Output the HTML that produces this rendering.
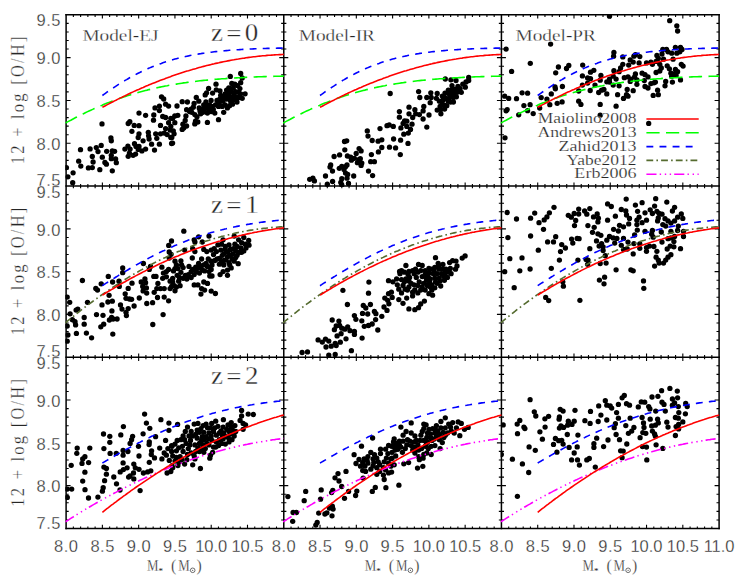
<!DOCTYPE html>
<html><head><meta charset="utf-8"><title>Mass-metallicity relation</title>
<style>html,body{margin:0;padding:0;background:#fff}svg{display:block}text{font-family:"Liberation Serif",serif;fill:#262626;stroke:#fff;stroke-width:0.3px}.n{font-family:"Liberation Sans",sans-serif;font-size:16.5px}</style></head><body>
<svg width="747" height="581" viewBox="0 0 747 581">
<rect width="747" height="581" fill="#fff"/>
<clipPath id="cp00"><rect x="65.30" y="14.00" width="219.27" height="172.90"/></clipPath>
<clipPath id="cp01"><rect x="282.97" y="14.00" width="219.26" height="172.90"/></clipPath>
<clipPath id="cp02"><rect x="500.63" y="14.00" width="219.27" height="172.90"/></clipPath>
<clipPath id="cp10"><rect x="65.30" y="185.30" width="219.27" height="172.70"/></clipPath>
<clipPath id="cp11"><rect x="282.97" y="185.30" width="219.26" height="172.70"/></clipPath>
<clipPath id="cp12"><rect x="500.63" y="185.30" width="219.27" height="172.70"/></clipPath>
<clipPath id="cp20"><rect x="65.30" y="356.40" width="219.27" height="172.90"/></clipPath>
<clipPath id="cp21"><rect x="282.97" y="356.40" width="219.26" height="172.90"/></clipPath>
<clipPath id="cp22"><rect x="500.63" y="356.40" width="219.27" height="172.90"/></clipPath>
<g clip-path="url(#cp00)" fill="#000">
<circle cx="66.4" cy="167.6" r="2.65"/>
<circle cx="67.9" cy="176.8" r="2.65"/>
<circle cx="73.1" cy="172.8" r="2.65"/>
<circle cx="72.7" cy="182.7" r="2.65"/>
<circle cx="78.7" cy="161.2" r="2.65"/>
<circle cx="80.8" cy="166.1" r="2.65"/>
<circle cx="80.5" cy="149.7" r="2.65"/>
<circle cx="88.4" cy="167.9" r="2.65"/>
<circle cx="92.3" cy="167.6" r="2.65"/>
<circle cx="90.1" cy="148.9" r="2.65"/>
<circle cx="92.3" cy="156.5" r="2.65"/>
<circle cx="93.1" cy="162.0" r="2.65"/>
<circle cx="96.3" cy="147.6" r="2.65"/>
<circle cx="98.0" cy="151.6" r="2.65"/>
<circle cx="99.8" cy="169.7" r="2.65"/>
<circle cx="101.2" cy="145.4" r="2.65"/>
<circle cx="102.3" cy="157.2" r="2.65"/>
<circle cx="104.9" cy="162.4" r="2.65"/>
<circle cx="106.4" cy="164.2" r="2.65"/>
<circle cx="106.7" cy="151.3" r="2.65"/>
<circle cx="110.9" cy="138.0" r="2.65"/>
<circle cx="111.3" cy="140.8" r="2.65"/>
<circle cx="112.3" cy="150.9" r="2.65"/>
<circle cx="114.6" cy="151.3" r="2.65"/>
<circle cx="111.3" cy="155.3" r="2.65"/>
<circle cx="111.3" cy="158.7" r="2.65"/>
<circle cx="115.6" cy="159.0" r="2.65"/>
<circle cx="116.3" cy="162.7" r="2.65"/>
<circle cx="112.3" cy="170.8" r="2.65"/>
<circle cx="102.0" cy="123.9" r="2.65"/>
<circle cx="124.9" cy="149.1" r="2.65"/>
<circle cx="127.9" cy="146.1" r="2.65"/>
<circle cx="130.1" cy="149.1" r="2.65"/>
<circle cx="129.4" cy="153.1" r="2.65"/>
<circle cx="128.2" cy="156.3" r="2.65"/>
<circle cx="133.1" cy="155.3" r="2.65"/>
<circle cx="135.6" cy="154.1" r="2.65"/>
<circle cx="134.5" cy="143.7" r="2.65"/>
<circle cx="136.0" cy="146.4" r="2.65"/>
<circle cx="139.0" cy="146.4" r="2.65"/>
<circle cx="138.2" cy="149.4" r="2.65"/>
<circle cx="141.9" cy="150.9" r="2.65"/>
<circle cx="145.6" cy="149.1" r="2.65"/>
<circle cx="143.1" cy="140.8" r="2.65"/>
<circle cx="138.2" cy="137.5" r="2.65"/>
<circle cx="139.0" cy="133.8" r="2.65"/>
<circle cx="131.9" cy="131.3" r="2.65"/>
<circle cx="128.2" cy="123.5" r="2.65"/>
<circle cx="129.8" cy="121.7" r="2.65"/>
<circle cx="134.2" cy="125.4" r="2.65"/>
<circle cx="139.0" cy="125.7" r="2.65"/>
<circle cx="139.0" cy="113.1" r="2.65"/>
<circle cx="145.6" cy="115.3" r="2.65"/>
<circle cx="148.3" cy="132.3" r="2.65"/>
<circle cx="148.6" cy="135.8" r="2.65"/>
<circle cx="149.1" cy="139.0" r="2.65"/>
<circle cx="151.6" cy="144.2" r="2.65"/>
<circle cx="154.5" cy="150.1" r="2.65"/>
<circle cx="153.8" cy="115.0" r="2.65"/>
<circle cx="153.5" cy="120.2" r="2.65"/>
<circle cx="155.0" cy="107.9" r="2.65"/>
<circle cx="159.4" cy="106.1" r="2.65"/>
<circle cx="159.4" cy="110.6" r="2.65"/>
<circle cx="155.7" cy="133.8" r="2.65"/>
<circle cx="156.8" cy="138.3" r="2.65"/>
<circle cx="159.4" cy="144.2" r="2.65"/>
<circle cx="160.5" cy="125.4" r="2.65"/>
<circle cx="162.7" cy="116.5" r="2.65"/>
<circle cx="165.6" cy="117.5" r="2.65"/>
<circle cx="165.6" cy="104.2" r="2.65"/>
<circle cx="168.6" cy="106.1" r="2.65"/>
<circle cx="164.2" cy="133.1" r="2.65"/>
<circle cx="167.1" cy="134.6" r="2.65"/>
<circle cx="170.8" cy="137.5" r="2.65"/>
<circle cx="171.6" cy="143.5" r="2.65"/>
<circle cx="160.5" cy="133.8" r="2.65"/>
<circle cx="165.6" cy="128.6" r="2.65"/>
<circle cx="168.6" cy="122.7" r="2.65"/>
<circle cx="170.8" cy="118.3" r="2.65"/>
<circle cx="170.8" cy="126.4" r="2.65"/>
<circle cx="170.1" cy="130.1" r="2.65"/>
<circle cx="161.5" cy="96.8" r="2.65"/>
<circle cx="163.7" cy="99.0" r="2.65"/>
<circle cx="177.0" cy="106.0" r="2.65"/>
<circle cx="182.2" cy="101.7" r="2.65"/>
<circle cx="187.4" cy="102.0" r="2.65"/>
<circle cx="186.6" cy="109.7" r="2.65"/>
<circle cx="191.1" cy="109.1" r="2.65"/>
<circle cx="194.1" cy="103.5" r="2.65"/>
<circle cx="196.3" cy="97.5" r="2.65"/>
<circle cx="198.8" cy="101.2" r="2.65"/>
<circle cx="185.9" cy="116.0" r="2.65"/>
<circle cx="185.2" cy="120.5" r="2.65"/>
<circle cx="182.9" cy="124.2" r="2.65"/>
<circle cx="183.7" cy="127.9" r="2.65"/>
<circle cx="186.6" cy="126.0" r="2.65"/>
<circle cx="182.2" cy="129.4" r="2.65"/>
<circle cx="174.8" cy="116.0" r="2.65"/>
<circle cx="177.8" cy="115.3" r="2.65"/>
<circle cx="174.8" cy="122.7" r="2.65"/>
<circle cx="172.6" cy="118.3" r="2.65"/>
<circle cx="173.3" cy="130.8" r="2.65"/>
<circle cx="174.1" cy="133.8" r="2.65"/>
<circle cx="171.8" cy="137.5" r="2.65"/>
<circle cx="172.6" cy="143.1" r="2.65"/>
<circle cx="191.8" cy="112.3" r="2.65"/>
<circle cx="194.8" cy="114.6" r="2.65"/>
<circle cx="197.0" cy="116.8" r="2.65"/>
<circle cx="195.5" cy="121.2" r="2.65"/>
<circle cx="197.8" cy="122.0" r="2.65"/>
<circle cx="194.8" cy="123.9" r="2.65"/>
<circle cx="200.0" cy="110.9" r="2.65"/>
<circle cx="201.5" cy="109.4" r="2.65"/>
<circle cx="200.7" cy="113.8" r="2.65"/>
<circle cx="203.7" cy="104.9" r="2.65"/>
<circle cx="205.9" cy="102.0" r="2.65"/>
<circle cx="207.1" cy="106.4" r="2.65"/>
<circle cx="208.9" cy="109.4" r="2.65"/>
<circle cx="207.4" cy="113.1" r="2.65"/>
<circle cx="211.1" cy="111.6" r="2.65"/>
<circle cx="214.8" cy="113.1" r="2.65"/>
<circle cx="213.3" cy="109.4" r="2.65"/>
<circle cx="215.5" cy="104.9" r="2.65"/>
<circle cx="217.0" cy="100.5" r="2.65"/>
<circle cx="219.2" cy="102.7" r="2.65"/>
<circle cx="222.2" cy="106.4" r="2.65"/>
<circle cx="223.7" cy="112.3" r="2.65"/>
<circle cx="218.5" cy="119.7" r="2.65"/>
<circle cx="207.4" cy="122.4" r="2.65"/>
<circle cx="205.2" cy="94.9" r="2.65"/>
<circle cx="206.6" cy="92.8" r="2.65"/>
<circle cx="208.6" cy="88.4" r="2.65"/>
<circle cx="212.6" cy="93.1" r="2.65"/>
<circle cx="216.0" cy="84.2" r="2.65"/>
<circle cx="216.3" cy="89.8" r="2.65"/>
<circle cx="220.0" cy="90.9" r="2.65"/>
<circle cx="220.7" cy="95.3" r="2.65"/>
<circle cx="220.0" cy="99.0" r="2.65"/>
<circle cx="225.1" cy="93.8" r="2.65"/>
<circle cx="226.6" cy="90.1" r="2.65"/>
<circle cx="228.8" cy="87.9" r="2.65"/>
<circle cx="231.8" cy="83.5" r="2.65"/>
<circle cx="230.3" cy="76.4" r="2.65"/>
<circle cx="240.7" cy="73.4" r="2.65"/>
<circle cx="242.2" cy="78.0" r="2.65"/>
<circle cx="240.7" cy="82.7" r="2.65"/>
<circle cx="239.9" cy="88.6" r="2.65"/>
<circle cx="238.5" cy="92.3" r="2.65"/>
<circle cx="240.7" cy="93.8" r="2.65"/>
<circle cx="245.1" cy="93.8" r="2.65"/>
<circle cx="242.2" cy="98.3" r="2.65"/>
<circle cx="237.0" cy="102.0" r="2.65"/>
<circle cx="232.5" cy="104.2" r="2.65"/>
<circle cx="229.6" cy="105.7" r="2.65"/>
<circle cx="227.4" cy="107.9" r="2.65"/>
<circle cx="225.1" cy="104.9" r="2.65"/>
<circle cx="226.6" cy="99.0" r="2.65"/>
<circle cx="229.6" cy="96.1" r="2.65"/>
<circle cx="232.5" cy="97.5" r="2.65"/>
<circle cx="234.8" cy="99.8" r="2.65"/>
<circle cx="231.1" cy="91.6" r="2.65"/>
<circle cx="233.3" cy="87.9" r="2.65"/>
<circle cx="235.5" cy="91.6" r="2.65"/>
<circle cx="228.1" cy="93.8" r="2.65"/>
<circle cx="222.9" cy="101.2" r="2.65"/>
<circle cx="211.8" cy="106.4" r="2.65"/>
<circle cx="204.4" cy="109.4" r="2.65"/>
<circle cx="202.9" cy="112.3" r="2.65"/>
<circle cx="199.2" cy="107.9" r="2.65"/>
<circle cx="193.3" cy="107.2" r="2.65"/>
<circle cx="189.6" cy="111.6" r="2.65"/>
<circle cx="227.4" cy="96.8" r="2.65"/>
<circle cx="230.3" cy="100.5" r="2.65"/>
<circle cx="234.0" cy="94.6" r="2.65"/>
<circle cx="236.2" cy="96.8" r="2.65"/>
<circle cx="228.8" cy="90.1" r="2.65"/>
<circle cx="237.7" cy="85.7" r="2.65"/>
<circle cx="234.8" cy="84.2" r="2.65"/>
<circle cx="238.5" cy="97.5" r="2.65"/>
<circle cx="225.1" cy="97.5" r="2.65"/>
<circle cx="231.1" cy="102.0" r="2.65"/>
<circle cx="222.2" cy="97.5" r="2.65"/>
<circle cx="218.5" cy="106.4" r="2.65"/>
<circle cx="209.6" cy="104.9" r="2.65"/>
<circle cx="211.1" cy="100.5" r="2.65"/>
</g>
<g clip-path="url(#cp01)" fill="#000">
<circle cx="309.7" cy="179.3" r="2.65"/>
<circle cx="312.9" cy="178.2" r="2.65"/>
<circle cx="314.4" cy="180.9" r="2.65"/>
<circle cx="325.5" cy="176.0" r="2.65"/>
<circle cx="327.3" cy="184.2" r="2.65"/>
<circle cx="332.6" cy="181.5" r="2.65"/>
<circle cx="332.5" cy="171.1" r="2.65"/>
<circle cx="330.0" cy="167.1" r="2.65"/>
<circle cx="330.7" cy="164.9" r="2.65"/>
<circle cx="334.1" cy="156.5" r="2.65"/>
<circle cx="339.6" cy="154.9" r="2.65"/>
<circle cx="339.3" cy="168.3" r="2.65"/>
<circle cx="341.8" cy="166.4" r="2.65"/>
<circle cx="345.5" cy="166.7" r="2.65"/>
<circle cx="347.0" cy="164.9" r="2.65"/>
<circle cx="344.0" cy="169.4" r="2.65"/>
<circle cx="345.5" cy="173.1" r="2.65"/>
<circle cx="347.7" cy="174.5" r="2.65"/>
<circle cx="347.0" cy="178.2" r="2.65"/>
<circle cx="341.8" cy="178.7" r="2.65"/>
<circle cx="340.8" cy="182.4" r="2.65"/>
<circle cx="341.8" cy="184.9" r="2.65"/>
<circle cx="348.5" cy="183.4" r="2.65"/>
<circle cx="353.7" cy="176.0" r="2.65"/>
<circle cx="344.8" cy="149.8" r="2.65"/>
<circle cx="344.5" cy="141.5" r="2.65"/>
<circle cx="346.7" cy="140.8" r="2.65"/>
<circle cx="347.4" cy="156.0" r="2.65"/>
<circle cx="350.7" cy="157.1" r="2.65"/>
<circle cx="351.4" cy="160.2" r="2.65"/>
<circle cx="354.4" cy="158.3" r="2.65"/>
<circle cx="356.2" cy="153.5" r="2.65"/>
<circle cx="357.4" cy="162.7" r="2.65"/>
<circle cx="358.8" cy="159.7" r="2.65"/>
<circle cx="360.3" cy="158.7" r="2.65"/>
<circle cx="361.8" cy="163.1" r="2.65"/>
<circle cx="361.1" cy="165.4" r="2.65"/>
<circle cx="359.1" cy="148.6" r="2.65"/>
<circle cx="361.1" cy="150.9" r="2.65"/>
<circle cx="368.5" cy="171.1" r="2.65"/>
<circle cx="372.6" cy="175.6" r="2.65"/>
<circle cx="370.7" cy="161.7" r="2.65"/>
<circle cx="374.4" cy="161.7" r="2.65"/>
<circle cx="371.4" cy="154.6" r="2.65"/>
<circle cx="378.4" cy="151.9" r="2.65"/>
<circle cx="381.8" cy="147.5" r="2.65"/>
<circle cx="372.2" cy="140.5" r="2.65"/>
<circle cx="378.1" cy="141.2" r="2.65"/>
<circle cx="381.8" cy="139.8" r="2.65"/>
<circle cx="368.0" cy="136.1" r="2.65"/>
<circle cx="367.3" cy="130.9" r="2.65"/>
<circle cx="380.0" cy="128.6" r="2.65"/>
<circle cx="387.0" cy="125.7" r="2.65"/>
<circle cx="389.2" cy="124.9" r="2.65"/>
<circle cx="393.3" cy="126.4" r="2.65"/>
<circle cx="393.6" cy="139.0" r="2.65"/>
<circle cx="389.5" cy="147.2" r="2.65"/>
<circle cx="395.6" cy="147.9" r="2.65"/>
<circle cx="400.3" cy="154.6" r="2.65"/>
<circle cx="390.2" cy="93.5" r="2.65"/>
<circle cx="399.4" cy="111.6" r="2.65"/>
<circle cx="399.4" cy="117.2" r="2.65"/>
<circle cx="400.9" cy="127.9" r="2.65"/>
<circle cx="400.6" cy="140.2" r="2.65"/>
<circle cx="404.6" cy="120.9" r="2.65"/>
<circle cx="403.1" cy="123.4" r="2.65"/>
<circle cx="406.8" cy="126.4" r="2.65"/>
<circle cx="412.0" cy="124.2" r="2.65"/>
<circle cx="410.5" cy="129.4" r="2.65"/>
<circle cx="408.3" cy="133.1" r="2.65"/>
<circle cx="403.8" cy="134.2" r="2.65"/>
<circle cx="408.0" cy="143.4" r="2.65"/>
<circle cx="409.0" cy="107.2" r="2.65"/>
<circle cx="409.0" cy="113.8" r="2.65"/>
<circle cx="414.9" cy="109.7" r="2.65"/>
<circle cx="412.7" cy="117.5" r="2.65"/>
<circle cx="419.4" cy="114.6" r="2.65"/>
<circle cx="423.1" cy="119.0" r="2.65"/>
<circle cx="426.8" cy="127.1" r="2.65"/>
<circle cx="429.0" cy="115.0" r="2.65"/>
<circle cx="423.1" cy="110.9" r="2.65"/>
<circle cx="423.8" cy="106.4" r="2.65"/>
<circle cx="418.6" cy="91.6" r="2.65"/>
<circle cx="419.8" cy="97.5" r="2.65"/>
<circle cx="426.8" cy="97.5" r="2.65"/>
<circle cx="430.8" cy="92.8" r="2.65"/>
<circle cx="431.2" cy="97.5" r="2.65"/>
<circle cx="430.2" cy="102.7" r="2.65"/>
<circle cx="437.2" cy="93.4" r="2.65"/>
<circle cx="436.4" cy="98.3" r="2.65"/>
<circle cx="439.4" cy="101.2" r="2.65"/>
<circle cx="442.3" cy="104.2" r="2.65"/>
<circle cx="437.2" cy="110.1" r="2.65"/>
<circle cx="440.9" cy="113.8" r="2.65"/>
<circle cx="444.6" cy="109.1" r="2.65"/>
<circle cx="446.8" cy="105.7" r="2.65"/>
<circle cx="448.3" cy="101.2" r="2.65"/>
<circle cx="444.6" cy="97.5" r="2.65"/>
<circle cx="445.0" cy="93.1" r="2.65"/>
<circle cx="448.3" cy="90.1" r="2.65"/>
<circle cx="451.2" cy="93.8" r="2.65"/>
<circle cx="453.4" cy="97.5" r="2.65"/>
<circle cx="456.4" cy="96.8" r="2.65"/>
<circle cx="453.4" cy="102.0" r="2.65"/>
<circle cx="452.0" cy="85.7" r="2.65"/>
<circle cx="454.9" cy="89.4" r="2.65"/>
<circle cx="457.9" cy="86.4" r="2.65"/>
<circle cx="456.0" cy="80.5" r="2.65"/>
<circle cx="450.9" cy="79.8" r="2.65"/>
<circle cx="445.3" cy="79.0" r="2.65"/>
<circle cx="461.3" cy="92.3" r="2.65"/>
<circle cx="462.8" cy="84.2" r="2.65"/>
<circle cx="465.3" cy="87.2" r="2.65"/>
<circle cx="466.0" cy="82.0" r="2.65"/>
<circle cx="468.7" cy="80.5" r="2.65"/>
<circle cx="468.7" cy="77.5" r="2.65"/>
<circle cx="458.6" cy="90.1" r="2.65"/>
<circle cx="449.7" cy="97.5" r="2.65"/>
<circle cx="443.1" cy="99.8" r="2.65"/>
<circle cx="440.1" cy="106.4" r="2.65"/>
<circle cx="415.7" cy="113.8" r="2.65"/>
<circle cx="406.8" cy="121.2" r="2.65"/>
<circle cx="442.3" cy="96.1" r="2.65"/>
<circle cx="446.8" cy="99.0" r="2.65"/>
<circle cx="450.5" cy="102.0" r="2.65"/>
<circle cx="451.2" cy="90.1" r="2.65"/>
<circle cx="454.2" cy="93.1" r="2.65"/>
<circle cx="449.0" cy="93.8" r="2.65"/>
<circle cx="440.9" cy="109.4" r="2.65"/>
<circle cx="443.8" cy="104.9" r="2.65"/>
<circle cx="457.1" cy="92.3" r="2.65"/>
<circle cx="460.1" cy="88.6" r="2.65"/>
</g>
<g clip-path="url(#cp02)" fill="#000">
<circle cx="506.1" cy="49.1" r="2.65"/>
<circle cx="511.6" cy="71.4" r="2.65"/>
<circle cx="530.3" cy="63.3" r="2.65"/>
<circle cx="550.6" cy="44.1" r="2.65"/>
<circle cx="558.4" cy="67.0" r="2.65"/>
<circle cx="555.7" cy="72.8" r="2.65"/>
<circle cx="568.8" cy="65.5" r="2.65"/>
<circle cx="566.5" cy="68.5" r="2.65"/>
<circle cx="582.7" cy="65.1" r="2.65"/>
<circle cx="593.8" cy="70.3" r="2.65"/>
<circle cx="590.5" cy="72.2" r="2.65"/>
<circle cx="582.4" cy="75.9" r="2.65"/>
<circle cx="587.6" cy="78.0" r="2.65"/>
<circle cx="590.5" cy="78.7" r="2.65"/>
<circle cx="600.9" cy="75.4" r="2.65"/>
<circle cx="600.2" cy="80.2" r="2.65"/>
<circle cx="606.8" cy="81.8" r="2.65"/>
<circle cx="587.6" cy="83.1" r="2.65"/>
<circle cx="595.0" cy="85.1" r="2.65"/>
<circle cx="582.4" cy="85.1" r="2.65"/>
<circle cx="578.7" cy="91.0" r="2.65"/>
<circle cx="590.2" cy="90.5" r="2.65"/>
<circle cx="555.0" cy="86.8" r="2.65"/>
<circle cx="555.4" cy="88.8" r="2.65"/>
<circle cx="562.4" cy="86.5" r="2.65"/>
<circle cx="551.3" cy="93.9" r="2.65"/>
<circle cx="541.2" cy="97.6" r="2.65"/>
<circle cx="546.9" cy="99.1" r="2.65"/>
<circle cx="522.1" cy="92.8" r="2.65"/>
<circle cx="527.6" cy="93.2" r="2.65"/>
<circle cx="504.7" cy="96.2" r="2.65"/>
<circle cx="508.7" cy="98.4" r="2.65"/>
<circle cx="516.5" cy="98.7" r="2.65"/>
<circle cx="598.7" cy="92.5" r="2.65"/>
<circle cx="601.6" cy="90.2" r="2.65"/>
<circle cx="603.9" cy="89.5" r="2.65"/>
<circle cx="606.8" cy="93.9" r="2.65"/>
<circle cx="609.5" cy="16.2" r="2.65"/>
<circle cx="669.7" cy="20.7" r="2.65"/>
<circle cx="676.8" cy="25.8" r="2.65"/>
<circle cx="677.6" cy="31.0" r="2.65"/>
<circle cx="613.9" cy="52.5" r="2.65"/>
<circle cx="613.6" cy="56.2" r="2.65"/>
<circle cx="622.8" cy="56.9" r="2.65"/>
<circle cx="630.2" cy="59.9" r="2.65"/>
<circle cx="633.9" cy="56.2" r="2.65"/>
<circle cx="635.4" cy="54.7" r="2.65"/>
<circle cx="639.8" cy="56.6" r="2.65"/>
<circle cx="633.2" cy="62.1" r="2.65"/>
<circle cx="639.1" cy="62.9" r="2.65"/>
<circle cx="628.7" cy="65.1" r="2.65"/>
<circle cx="622.8" cy="64.3" r="2.65"/>
<circle cx="620.6" cy="68.0" r="2.65"/>
<circle cx="613.9" cy="70.7" r="2.65"/>
<circle cx="619.1" cy="71.7" r="2.65"/>
<circle cx="613.2" cy="76.2" r="2.65"/>
<circle cx="609.5" cy="79.1" r="2.65"/>
<circle cx="616.1" cy="79.1" r="2.65"/>
<circle cx="609.5" cy="82.1" r="2.65"/>
<circle cx="613.2" cy="85.1" r="2.65"/>
<circle cx="619.1" cy="85.8" r="2.65"/>
<circle cx="624.3" cy="77.7" r="2.65"/>
<circle cx="628.0" cy="76.9" r="2.65"/>
<circle cx="630.9" cy="79.1" r="2.65"/>
<circle cx="630.2" cy="81.4" r="2.65"/>
<circle cx="635.4" cy="74.0" r="2.65"/>
<circle cx="634.6" cy="76.9" r="2.65"/>
<circle cx="636.9" cy="79.9" r="2.65"/>
<circle cx="636.9" cy="84.3" r="2.65"/>
<circle cx="642.1" cy="73.2" r="2.65"/>
<circle cx="645.0" cy="74.7" r="2.65"/>
<circle cx="648.0" cy="76.9" r="2.65"/>
<circle cx="644.3" cy="80.6" r="2.65"/>
<circle cx="645.0" cy="86.5" r="2.65"/>
<circle cx="648.0" cy="88.0" r="2.65"/>
<circle cx="650.9" cy="83.6" r="2.65"/>
<circle cx="653.9" cy="82.8" r="2.65"/>
<circle cx="655.4" cy="82.1" r="2.65"/>
<circle cx="646.5" cy="62.9" r="2.65"/>
<circle cx="650.9" cy="62.1" r="2.65"/>
<circle cx="652.4" cy="64.3" r="2.65"/>
<circle cx="656.9" cy="55.5" r="2.65"/>
<circle cx="658.3" cy="58.4" r="2.65"/>
<circle cx="656.1" cy="61.4" r="2.65"/>
<circle cx="659.8" cy="64.3" r="2.65"/>
<circle cx="662.0" cy="54.0" r="2.65"/>
<circle cx="662.8" cy="49.5" r="2.65"/>
<circle cx="666.5" cy="49.5" r="2.65"/>
<circle cx="668.0" cy="51.8" r="2.65"/>
<circle cx="671.7" cy="53.2" r="2.65"/>
<circle cx="675.4" cy="47.3" r="2.65"/>
<circle cx="676.8" cy="53.2" r="2.65"/>
<circle cx="680.5" cy="47.3" r="2.65"/>
<circle cx="682.0" cy="49.5" r="2.65"/>
<circle cx="679.8" cy="51.8" r="2.65"/>
<circle cx="663.5" cy="59.2" r="2.65"/>
<circle cx="673.1" cy="59.2" r="2.65"/>
<circle cx="667.2" cy="65.8" r="2.65"/>
<circle cx="669.4" cy="68.8" r="2.65"/>
<circle cx="661.3" cy="68.0" r="2.65"/>
<circle cx="659.8" cy="71.0" r="2.65"/>
<circle cx="656.1" cy="72.5" r="2.65"/>
<circle cx="670.9" cy="73.2" r="2.65"/>
<circle cx="673.9" cy="74.0" r="2.65"/>
<circle cx="675.4" cy="69.5" r="2.65"/>
<circle cx="677.6" cy="71.7" r="2.65"/>
<circle cx="671.7" cy="76.2" r="2.65"/>
<circle cx="676.1" cy="75.4" r="2.65"/>
<circle cx="680.5" cy="79.9" r="2.65"/>
<circle cx="672.4" cy="82.1" r="2.65"/>
<circle cx="665.7" cy="81.4" r="2.65"/>
<circle cx="665.0" cy="85.8" r="2.65"/>
<circle cx="657.6" cy="90.2" r="2.65"/>
<circle cx="658.3" cy="94.7" r="2.65"/>
<circle cx="653.2" cy="95.4" r="2.65"/>
<circle cx="633.2" cy="90.7" r="2.65"/>
<circle cx="627.2" cy="89.5" r="2.65"/>
<circle cx="626.5" cy="94.7" r="2.65"/>
<circle cx="617.6" cy="94.7" r="2.65"/>
<circle cx="623.5" cy="98.4" r="2.65"/>
<circle cx="628.0" cy="96.2" r="2.65"/>
<circle cx="681.3" cy="64.3" r="2.65"/>
<circle cx="683.1" cy="66.1" r="2.65"/>
<circle cx="506.1" cy="110.8" r="2.65"/>
<circle cx="507.2" cy="109.6" r="2.65"/>
<circle cx="518.7" cy="114.8" r="2.65"/>
<circle cx="523.9" cy="105.6" r="2.65"/>
<circle cx="530.1" cy="104.7" r="2.65"/>
<circle cx="527.6" cy="110.7" r="2.65"/>
<circle cx="533.2" cy="113.6" r="2.65"/>
<circle cx="539.7" cy="108.1" r="2.65"/>
<circle cx="549.8" cy="104.7" r="2.65"/>
<circle cx="557.2" cy="103.3" r="2.65"/>
<circle cx="562.1" cy="101.9" r="2.65"/>
<circle cx="580.9" cy="104.4" r="2.65"/>
<circle cx="578.7" cy="101.2" r="2.65"/>
<circle cx="600.2" cy="104.4" r="2.65"/>
<circle cx="600.2" cy="115.2" r="2.65"/>
<circle cx="505.0" cy="137.8" r="2.65"/>
<circle cx="616.1" cy="106.2" r="2.65"/>
<circle cx="648.7" cy="123.4" r="2.65"/>
</g>
<g clip-path="url(#cp10)" fill="#000">
<circle cx="67.2" cy="297.1" r="2.65"/>
<circle cx="69.7" cy="302.3" r="2.65"/>
<circle cx="70.1" cy="313.8" r="2.65"/>
<circle cx="67.2" cy="326.1" r="2.65"/>
<circle cx="67.9" cy="335.0" r="2.65"/>
<circle cx="67.2" cy="341.2" r="2.65"/>
<circle cx="72.4" cy="319.7" r="2.65"/>
<circle cx="75.0" cy="321.7" r="2.65"/>
<circle cx="75.6" cy="324.9" r="2.65"/>
<circle cx="76.4" cy="333.4" r="2.65"/>
<circle cx="76.1" cy="310.1" r="2.65"/>
<circle cx="77.8" cy="309.1" r="2.65"/>
<circle cx="82.4" cy="280.5" r="2.65"/>
<circle cx="84.2" cy="317.5" r="2.65"/>
<circle cx="84.2" cy="324.2" r="2.65"/>
<circle cx="86.4" cy="333.1" r="2.65"/>
<circle cx="87.5" cy="302.3" r="2.65"/>
<circle cx="91.6" cy="337.8" r="2.65"/>
<circle cx="95.8" cy="288.4" r="2.65"/>
<circle cx="97.5" cy="290.1" r="2.65"/>
<circle cx="96.5" cy="314.6" r="2.65"/>
<circle cx="101.2" cy="283.8" r="2.65"/>
<circle cx="102.0" cy="304.9" r="2.65"/>
<circle cx="103.0" cy="315.3" r="2.65"/>
<circle cx="100.8" cy="326.8" r="2.65"/>
<circle cx="103.7" cy="324.2" r="2.65"/>
<circle cx="107.9" cy="302.0" r="2.65"/>
<circle cx="109.1" cy="295.3" r="2.65"/>
<circle cx="112.3" cy="301.2" r="2.65"/>
<circle cx="111.9" cy="310.9" r="2.65"/>
<circle cx="111.6" cy="317.5" r="2.65"/>
<circle cx="109.4" cy="320.0" r="2.65"/>
<circle cx="113.1" cy="319.0" r="2.65"/>
<circle cx="117.1" cy="319.0" r="2.65"/>
<circle cx="112.8" cy="334.1" r="2.65"/>
<circle cx="108.3" cy="276.4" r="2.65"/>
<circle cx="112.6" cy="282.0" r="2.65"/>
<circle cx="119.0" cy="281.2" r="2.65"/>
<circle cx="119.3" cy="286.4" r="2.65"/>
<circle cx="122.7" cy="267.9" r="2.65"/>
<circle cx="122.7" cy="272.7" r="2.65"/>
<circle cx="120.5" cy="304.9" r="2.65"/>
<circle cx="122.0" cy="309.1" r="2.65"/>
<circle cx="125.2" cy="293.8" r="2.65"/>
<circle cx="126.0" cy="298.3" r="2.65"/>
<circle cx="128.2" cy="288.4" r="2.65"/>
<circle cx="128.2" cy="308.6" r="2.65"/>
<circle cx="126.0" cy="312.3" r="2.65"/>
<circle cx="126.4" cy="315.6" r="2.65"/>
<circle cx="129.4" cy="299.0" r="2.65"/>
<circle cx="131.6" cy="299.3" r="2.65"/>
<circle cx="132.0" cy="283.2" r="2.65"/>
<circle cx="134.1" cy="306.0" r="2.65"/>
<circle cx="139.3" cy="298.0" r="2.65"/>
<circle cx="143.4" cy="263.5" r="2.65"/>
<circle cx="141.2" cy="282.0" r="2.65"/>
<circle cx="144.9" cy="279.0" r="2.65"/>
<circle cx="145.6" cy="282.7" r="2.65"/>
<circle cx="142.7" cy="286.4" r="2.65"/>
<circle cx="146.4" cy="287.9" r="2.65"/>
<circle cx="143.1" cy="290.9" r="2.65"/>
<circle cx="146.7" cy="293.1" r="2.65"/>
<circle cx="149.3" cy="269.4" r="2.65"/>
<circle cx="150.5" cy="266.4" r="2.65"/>
<circle cx="146.8" cy="303.5" r="2.65"/>
<circle cx="152.6" cy="302.7" r="2.65"/>
<circle cx="153.8" cy="276.4" r="2.65"/>
<circle cx="156.0" cy="276.4" r="2.65"/>
<circle cx="154.2" cy="292.3" r="2.65"/>
<circle cx="156.8" cy="288.6" r="2.65"/>
<circle cx="157.5" cy="297.5" r="2.65"/>
<circle cx="157.9" cy="283.5" r="2.65"/>
<circle cx="160.5" cy="288.6" r="2.65"/>
<circle cx="161.9" cy="267.2" r="2.65"/>
<circle cx="163.4" cy="273.1" r="2.65"/>
<circle cx="162.7" cy="278.3" r="2.65"/>
<circle cx="166.4" cy="276.8" r="2.65"/>
<circle cx="164.2" cy="288.6" r="2.65"/>
<circle cx="164.2" cy="297.1" r="2.65"/>
<circle cx="163.1" cy="314.6" r="2.65"/>
<circle cx="152.8" cy="324.5" r="2.65"/>
<circle cx="168.6" cy="300.8" r="2.65"/>
<circle cx="168.6" cy="269.4" r="2.65"/>
<circle cx="166.4" cy="271.6" r="2.65"/>
<circle cx="170.1" cy="281.2" r="2.65"/>
<circle cx="170.1" cy="288.6" r="2.65"/>
<circle cx="171.6" cy="286.4" r="2.65"/>
<circle cx="183.8" cy="231.2" r="2.65"/>
<circle cx="198.6" cy="236.8" r="2.65"/>
<circle cx="194.2" cy="239.8" r="2.65"/>
<circle cx="194.9" cy="242.0" r="2.65"/>
<circle cx="202.3" cy="242.0" r="2.65"/>
<circle cx="209.0" cy="236.1" r="2.65"/>
<circle cx="184.6" cy="250.1" r="2.65"/>
<circle cx="192.7" cy="248.6" r="2.65"/>
<circle cx="194.9" cy="251.6" r="2.65"/>
<circle cx="203.8" cy="249.4" r="2.65"/>
<circle cx="192.3" cy="258.0" r="2.65"/>
<circle cx="175.0" cy="261.2" r="2.65"/>
<circle cx="180.9" cy="260.8" r="2.65"/>
<circle cx="176.4" cy="264.9" r="2.65"/>
<circle cx="175.0" cy="268.6" r="2.65"/>
<circle cx="183.1" cy="267.6" r="2.65"/>
<circle cx="180.9" cy="272.3" r="2.65"/>
<circle cx="189.0" cy="266.4" r="2.65"/>
<circle cx="191.2" cy="271.6" r="2.65"/>
<circle cx="194.2" cy="274.6" r="2.65"/>
<circle cx="196.4" cy="271.6" r="2.65"/>
<circle cx="198.6" cy="263.5" r="2.65"/>
<circle cx="201.6" cy="259.0" r="2.65"/>
<circle cx="203.8" cy="264.9" r="2.65"/>
<circle cx="200.9" cy="267.9" r="2.65"/>
<circle cx="199.4" cy="273.1" r="2.65"/>
<circle cx="204.6" cy="270.9" r="2.65"/>
<circle cx="208.3" cy="259.0" r="2.65"/>
<circle cx="211.2" cy="261.2" r="2.65"/>
<circle cx="212.0" cy="264.9" r="2.65"/>
<circle cx="211.2" cy="269.4" r="2.65"/>
<circle cx="207.5" cy="266.4" r="2.65"/>
<circle cx="209.8" cy="276.0" r="2.65"/>
<circle cx="212.0" cy="276.0" r="2.65"/>
<circle cx="172.7" cy="278.3" r="2.65"/>
<circle cx="183.1" cy="278.3" r="2.65"/>
<circle cx="186.8" cy="279.0" r="2.65"/>
<circle cx="191.2" cy="277.5" r="2.65"/>
<circle cx="178.7" cy="281.2" r="2.65"/>
<circle cx="174.2" cy="285.7" r="2.65"/>
<circle cx="180.1" cy="285.7" r="2.65"/>
<circle cx="175.0" cy="290.8" r="2.65"/>
<circle cx="194.2" cy="284.9" r="2.65"/>
<circle cx="197.9" cy="284.9" r="2.65"/>
<circle cx="203.8" cy="282.0" r="2.65"/>
<circle cx="207.5" cy="283.4" r="2.65"/>
<circle cx="201.6" cy="288.6" r="2.65"/>
<circle cx="204.6" cy="290.1" r="2.65"/>
<circle cx="200.9" cy="294.1" r="2.65"/>
<circle cx="211.2" cy="291.1" r="2.65"/>
<circle cx="215.4" cy="293.5" r="2.65"/>
<circle cx="211.2" cy="250.1" r="2.65"/>
<circle cx="214.2" cy="248.6" r="2.65"/>
<circle cx="213.5" cy="254.6" r="2.65"/>
<circle cx="217.9" cy="244.9" r="2.65"/>
<circle cx="221.6" cy="244.2" r="2.65"/>
<circle cx="220.9" cy="250.1" r="2.65"/>
<circle cx="223.1" cy="239.8" r="2.65"/>
<circle cx="225.3" cy="246.4" r="2.65"/>
<circle cx="229.0" cy="244.9" r="2.65"/>
<circle cx="227.5" cy="252.3" r="2.65"/>
<circle cx="223.8" cy="253.8" r="2.65"/>
<circle cx="219.4" cy="258.3" r="2.65"/>
<circle cx="223.8" cy="260.5" r="2.65"/>
<circle cx="219.4" cy="264.2" r="2.65"/>
<circle cx="223.8" cy="264.9" r="2.65"/>
<circle cx="227.5" cy="256.8" r="2.65"/>
<circle cx="229.0" cy="262.7" r="2.65"/>
<circle cx="231.2" cy="267.9" r="2.65"/>
<circle cx="227.5" cy="270.1" r="2.65"/>
<circle cx="223.1" cy="271.6" r="2.65"/>
<circle cx="220.1" cy="274.6" r="2.65"/>
<circle cx="227.5" cy="275.3" r="2.65"/>
<circle cx="234.2" cy="236.1" r="2.65"/>
<circle cx="238.6" cy="239.8" r="2.65"/>
<circle cx="234.9" cy="244.2" r="2.65"/>
<circle cx="243.8" cy="237.5" r="2.65"/>
<circle cx="248.7" cy="240.5" r="2.65"/>
<circle cx="245.3" cy="244.2" r="2.65"/>
<circle cx="249.0" cy="245.2" r="2.65"/>
<circle cx="240.8" cy="247.9" r="2.65"/>
<circle cx="243.8" cy="250.9" r="2.65"/>
<circle cx="239.4" cy="252.3" r="2.65"/>
<circle cx="235.7" cy="250.9" r="2.65"/>
<circle cx="232.7" cy="253.8" r="2.65"/>
<circle cx="235.7" cy="257.5" r="2.65"/>
<circle cx="232.0" cy="259.0" r="2.65"/>
<circle cx="238.2" cy="263.7" r="2.65"/>
<circle cx="230.5" cy="249.4" r="2.65"/>
<circle cx="216.4" cy="251.6" r="2.65"/>
<circle cx="206.8" cy="251.6" r="2.65"/>
<circle cx="171.5" cy="241.0" r="2.65"/>
<circle cx="168.7" cy="245.4" r="2.65"/>
<circle cx="169.2" cy="252.0" r="2.65"/>
<circle cx="171.1" cy="254.3" r="2.65"/>
<circle cx="169.2" cy="258.1" r="2.65"/>
<circle cx="173.5" cy="270.9" r="2.65"/>
<circle cx="177.9" cy="268.6" r="2.65"/>
<circle cx="181.6" cy="264.9" r="2.65"/>
<circle cx="177.2" cy="275.3" r="2.65"/>
<circle cx="185.3" cy="275.3" r="2.65"/>
<circle cx="188.3" cy="274.6" r="2.65"/>
<circle cx="176.4" cy="287.1" r="2.65"/>
<circle cx="172.7" cy="282.0" r="2.65"/>
<circle cx="179.4" cy="277.5" r="2.65"/>
<circle cx="197.2" cy="267.9" r="2.65"/>
<circle cx="202.3" cy="270.1" r="2.65"/>
<circle cx="206.1" cy="263.5" r="2.65"/>
<circle cx="209.0" cy="271.6" r="2.65"/>
<circle cx="200.1" cy="265.7" r="2.65"/>
<circle cx="195.7" cy="267.2" r="2.65"/>
<circle cx="192.7" cy="269.4" r="2.65"/>
<circle cx="222.3" cy="255.3" r="2.65"/>
<circle cx="226.0" cy="259.8" r="2.65"/>
<circle cx="230.5" cy="255.3" r="2.65"/>
<circle cx="233.4" cy="248.6" r="2.65"/>
<circle cx="237.1" cy="246.4" r="2.65"/>
<circle cx="241.6" cy="242.7" r="2.65"/>
<circle cx="246.0" cy="247.9" r="2.65"/>
<circle cx="225.3" cy="249.4" r="2.65"/>
<circle cx="221.6" cy="262.0" r="2.65"/>
<circle cx="217.2" cy="259.0" r="2.65"/>
<circle cx="234.2" cy="261.2" r="2.65"/>
<circle cx="237.1" cy="255.3" r="2.65"/>
<circle cx="229.7" cy="264.9" r="2.65"/>
<circle cx="214.9" cy="260.5" r="2.65"/>
<circle cx="241.6" cy="252.3" r="2.65"/>
</g>
<g clip-path="url(#cp11)" fill="#000">
<circle cx="302.1" cy="352.5" r="2.65"/>
<circle cx="307.5" cy="351.9" r="2.65"/>
<circle cx="318.1" cy="339.9" r="2.65"/>
<circle cx="322.3" cy="342.1" r="2.65"/>
<circle cx="325.5" cy="339.1" r="2.65"/>
<circle cx="328.8" cy="341.1" r="2.65"/>
<circle cx="326.0" cy="347.0" r="2.65"/>
<circle cx="331.2" cy="346.2" r="2.65"/>
<circle cx="335.2" cy="343.3" r="2.65"/>
<circle cx="336.2" cy="345.5" r="2.65"/>
<circle cx="340.3" cy="342.2" r="2.65"/>
<circle cx="328.8" cy="355.1" r="2.65"/>
<circle cx="335.2" cy="354.4" r="2.65"/>
<circle cx="351.4" cy="350.7" r="2.65"/>
<circle cx="346.0" cy="338.8" r="2.65"/>
<circle cx="337.1" cy="335.9" r="2.65"/>
<circle cx="341.1" cy="333.7" r="2.65"/>
<circle cx="334.4" cy="329.7" r="2.65"/>
<circle cx="336.2" cy="326.0" r="2.65"/>
<circle cx="332.2" cy="320.0" r="2.65"/>
<circle cx="338.9" cy="321.1" r="2.65"/>
<circle cx="339.6" cy="325.5" r="2.65"/>
<circle cx="341.8" cy="328.2" r="2.65"/>
<circle cx="344.8" cy="329.2" r="2.65"/>
<circle cx="347.7" cy="327.0" r="2.65"/>
<circle cx="350.0" cy="330.7" r="2.65"/>
<circle cx="354.4" cy="331.4" r="2.65"/>
<circle cx="354.4" cy="334.4" r="2.65"/>
<circle cx="362.1" cy="338.1" r="2.65"/>
<circle cx="342.9" cy="290.3" r="2.65"/>
<circle cx="347.4" cy="304.5" r="2.65"/>
<circle cx="354.4" cy="315.6" r="2.65"/>
<circle cx="355.9" cy="319.3" r="2.65"/>
<circle cx="361.8" cy="320.8" r="2.65"/>
<circle cx="364.3" cy="326.3" r="2.65"/>
<circle cx="368.5" cy="325.5" r="2.65"/>
<circle cx="372.2" cy="324.0" r="2.65"/>
<circle cx="377.8" cy="330.0" r="2.65"/>
<circle cx="362.5" cy="313.4" r="2.65"/>
<circle cx="367.7" cy="314.0" r="2.65"/>
<circle cx="363.3" cy="305.5" r="2.65"/>
<circle cx="365.8" cy="308.0" r="2.65"/>
<circle cx="370.4" cy="304.5" r="2.65"/>
<circle cx="374.4" cy="311.5" r="2.65"/>
<circle cx="375.9" cy="313.7" r="2.65"/>
<circle cx="375.6" cy="319.6" r="2.65"/>
<circle cx="381.8" cy="316.3" r="2.65"/>
<circle cx="368.5" cy="293.2" r="2.65"/>
<circle cx="368.9" cy="282.1" r="2.65"/>
<circle cx="384.0" cy="307.0" r="2.65"/>
<circle cx="387.0" cy="310.4" r="2.65"/>
<circle cx="388.9" cy="303.8" r="2.65"/>
<circle cx="384.8" cy="298.1" r="2.65"/>
<circle cx="387.7" cy="300.3" r="2.65"/>
<circle cx="392.2" cy="297.4" r="2.65"/>
<circle cx="388.5" cy="293.7" r="2.65"/>
<circle cx="391.4" cy="292.2" r="2.65"/>
<circle cx="388.5" cy="280.7" r="2.65"/>
<circle cx="392.9" cy="281.8" r="2.65"/>
<circle cx="396.6" cy="278.9" r="2.65"/>
<circle cx="397.3" cy="284.8" r="2.65"/>
<circle cx="398.8" cy="289.2" r="2.65"/>
<circle cx="398.8" cy="299.6" r="2.65"/>
<circle cx="399.6" cy="271.5" r="2.65"/>
<circle cx="465.1" cy="255.9" r="2.65"/>
<circle cx="462.2" cy="258.1" r="2.65"/>
<circle cx="435.5" cy="257.7" r="2.65"/>
<circle cx="438.2" cy="263.3" r="2.65"/>
<circle cx="452.6" cy="260.7" r="2.65"/>
<circle cx="456.0" cy="261.1" r="2.65"/>
<circle cx="449.6" cy="262.6" r="2.65"/>
<circle cx="442.9" cy="264.5" r="2.65"/>
<circle cx="457.0" cy="266.0" r="2.65"/>
<circle cx="455.5" cy="269.2" r="2.65"/>
<circle cx="450.3" cy="268.5" r="2.65"/>
<circle cx="451.1" cy="273.7" r="2.65"/>
<circle cx="447.4" cy="277.4" r="2.65"/>
<circle cx="444.4" cy="280.3" r="2.65"/>
<circle cx="440.7" cy="286.0" r="2.65"/>
<circle cx="418.5" cy="264.4" r="2.65"/>
<circle cx="422.2" cy="265.5" r="2.65"/>
<circle cx="415.5" cy="269.2" r="2.65"/>
<circle cx="405.9" cy="265.5" r="2.65"/>
<circle cx="408.9" cy="271.5" r="2.65"/>
<circle cx="401.5" cy="270.7" r="2.65"/>
<circle cx="414.1" cy="273.7" r="2.65"/>
<circle cx="409.6" cy="277.4" r="2.65"/>
<circle cx="405.9" cy="278.9" r="2.65"/>
<circle cx="401.5" cy="279.6" r="2.65"/>
<circle cx="416.3" cy="277.4" r="2.65"/>
<circle cx="419.2" cy="281.8" r="2.65"/>
<circle cx="411.1" cy="283.3" r="2.65"/>
<circle cx="414.1" cy="284.8" r="2.65"/>
<circle cx="403.0" cy="285.5" r="2.65"/>
<circle cx="407.4" cy="290.0" r="2.65"/>
<circle cx="401.5" cy="292.9" r="2.65"/>
<circle cx="412.6" cy="292.2" r="2.65"/>
<circle cx="417.8" cy="292.9" r="2.65"/>
<circle cx="414.8" cy="290.0" r="2.65"/>
<circle cx="406.7" cy="298.1" r="2.65"/>
<circle cx="412.6" cy="295.9" r="2.65"/>
<circle cx="403.0" cy="303.3" r="2.65"/>
<circle cx="408.9" cy="308.9" r="2.65"/>
<circle cx="414.8" cy="309.7" r="2.65"/>
<circle cx="418.5" cy="307.7" r="2.65"/>
<circle cx="420.7" cy="304.0" r="2.65"/>
<circle cx="424.4" cy="301.1" r="2.65"/>
<circle cx="428.9" cy="268.5" r="2.65"/>
<circle cx="431.8" cy="269.2" r="2.65"/>
<circle cx="434.8" cy="267.5" r="2.65"/>
<circle cx="439.2" cy="269.2" r="2.65"/>
<circle cx="442.9" cy="269.2" r="2.65"/>
<circle cx="428.9" cy="272.9" r="2.65"/>
<circle cx="433.3" cy="273.7" r="2.65"/>
<circle cx="437.0" cy="273.7" r="2.65"/>
<circle cx="441.5" cy="273.7" r="2.65"/>
<circle cx="425.2" cy="274.4" r="2.65"/>
<circle cx="422.2" cy="276.6" r="2.65"/>
<circle cx="426.6" cy="280.3" r="2.65"/>
<circle cx="430.3" cy="278.9" r="2.65"/>
<circle cx="434.8" cy="278.1" r="2.65"/>
<circle cx="439.2" cy="278.1" r="2.65"/>
<circle cx="443.7" cy="276.6" r="2.65"/>
<circle cx="423.7" cy="283.3" r="2.65"/>
<circle cx="427.4" cy="285.5" r="2.65"/>
<circle cx="431.8" cy="284.8" r="2.65"/>
<circle cx="435.5" cy="281.8" r="2.65"/>
<circle cx="434.8" cy="287.8" r="2.65"/>
<circle cx="431.8" cy="290.0" r="2.65"/>
<circle cx="428.9" cy="293.7" r="2.65"/>
<circle cx="432.6" cy="295.2" r="2.65"/>
<circle cx="422.2" cy="287.0" r="2.65"/>
<circle cx="438.5" cy="265.5" r="2.65"/>
<circle cx="428.1" cy="276.6" r="2.65"/>
<circle cx="445.2" cy="272.9" r="2.65"/>
<circle cx="400.0" cy="273.7" r="2.65"/>
<circle cx="404.4" cy="272.2" r="2.65"/>
<circle cx="408.1" cy="274.4" r="2.65"/>
<circle cx="412.6" cy="270.7" r="2.65"/>
<circle cx="404.4" cy="281.8" r="2.65"/>
<circle cx="408.9" cy="281.1" r="2.65"/>
<circle cx="417.8" cy="272.2" r="2.65"/>
<circle cx="420.7" cy="270.7" r="2.65"/>
<circle cx="425.2" cy="270.7" r="2.65"/>
<circle cx="417.8" cy="285.5" r="2.65"/>
<circle cx="420.7" cy="290.0" r="2.65"/>
<circle cx="425.2" cy="290.0" r="2.65"/>
<circle cx="408.9" cy="287.0" r="2.65"/>
<circle cx="405.2" cy="289.2" r="2.65"/>
<circle cx="434.1" cy="270.7" r="2.65"/>
<circle cx="440.0" cy="281.1" r="2.65"/>
<circle cx="437.0" cy="283.3" r="2.65"/>
<circle cx="429.6" cy="281.8" r="2.65"/>
<circle cx="425.9" cy="277.4" r="2.65"/>
<circle cx="430.3" cy="287.0" r="2.65"/>
<circle cx="445.9" cy="269.2" r="2.65"/>
<circle cx="448.9" cy="272.2" r="2.65"/>
</g>
<g clip-path="url(#cp12)" fill="#000">
<circle cx="507.2" cy="212.5" r="2.65"/>
<circle cx="516.5" cy="219.0" r="2.65"/>
<circle cx="530.6" cy="218.2" r="2.65"/>
<circle cx="534.7" cy="213.1" r="2.65"/>
<circle cx="539.0" cy="222.7" r="2.65"/>
<circle cx="544.2" cy="219.9" r="2.65"/>
<circle cx="546.9" cy="216.9" r="2.65"/>
<circle cx="549.4" cy="212.8" r="2.65"/>
<circle cx="554.0" cy="207.3" r="2.65"/>
<circle cx="543.5" cy="229.3" r="2.65"/>
<circle cx="530.6" cy="236.0" r="2.65"/>
<circle cx="507.9" cy="237.6" r="2.65"/>
<circle cx="538.3" cy="250.2" r="2.65"/>
<circle cx="509.8" cy="258.7" r="2.65"/>
<circle cx="522.0" cy="257.9" r="2.65"/>
<circle cx="504.7" cy="271.7" r="2.65"/>
<circle cx="519.8" cy="270.8" r="2.65"/>
<circle cx="530.1" cy="269.0" r="2.65"/>
<circle cx="547.6" cy="241.9" r="2.65"/>
<circle cx="553.5" cy="241.9" r="2.65"/>
<circle cx="555.7" cy="236.7" r="2.65"/>
<circle cx="561.7" cy="244.6" r="2.65"/>
<circle cx="565.4" cy="248.0" r="2.65"/>
<circle cx="560.5" cy="251.6" r="2.65"/>
<circle cx="559.4" cy="260.1" r="2.65"/>
<circle cx="551.3" cy="268.3" r="2.65"/>
<circle cx="568.3" cy="215.3" r="2.65"/>
<circle cx="571.3" cy="217.2" r="2.65"/>
<circle cx="574.2" cy="213.5" r="2.65"/>
<circle cx="578.7" cy="209.1" r="2.65"/>
<circle cx="578.7" cy="214.0" r="2.65"/>
<circle cx="584.6" cy="211.0" r="2.65"/>
<circle cx="586.8" cy="214.2" r="2.65"/>
<circle cx="589.8" cy="208.6" r="2.65"/>
<circle cx="575.7" cy="220.5" r="2.65"/>
<circle cx="574.5" cy="225.6" r="2.65"/>
<circle cx="587.9" cy="225.6" r="2.65"/>
<circle cx="593.5" cy="216.9" r="2.65"/>
<circle cx="597.2" cy="214.0" r="2.65"/>
<circle cx="598.4" cy="218.2" r="2.65"/>
<circle cx="597.9" cy="221.9" r="2.65"/>
<circle cx="594.2" cy="227.3" r="2.65"/>
<circle cx="592.5" cy="232.3" r="2.65"/>
<circle cx="597.9" cy="233.8" r="2.65"/>
<circle cx="600.9" cy="235.3" r="2.65"/>
<circle cx="607.6" cy="203.9" r="2.65"/>
<circle cx="571.6" cy="239.1" r="2.65"/>
<circle cx="572.8" cy="243.1" r="2.65"/>
<circle cx="577.2" cy="238.4" r="2.65"/>
<circle cx="579.1" cy="238.7" r="2.65"/>
<circle cx="596.5" cy="240.9" r="2.65"/>
<circle cx="589.8" cy="248.7" r="2.65"/>
<circle cx="599.1" cy="246.1" r="2.65"/>
<circle cx="601.6" cy="243.6" r="2.65"/>
<circle cx="603.1" cy="246.8" r="2.65"/>
<circle cx="606.8" cy="240.2" r="2.65"/>
<circle cx="603.1" cy="250.5" r="2.65"/>
<circle cx="605.3" cy="255.7" r="2.65"/>
<circle cx="577.9" cy="260.1" r="2.65"/>
<circle cx="586.1" cy="259.4" r="2.65"/>
<circle cx="588.0" cy="260.1" r="2.65"/>
<circle cx="587.6" cy="264.3" r="2.65"/>
<circle cx="600.2" cy="263.5" r="2.65"/>
<circle cx="606.1" cy="263.1" r="2.65"/>
<circle cx="604.6" cy="277.2" r="2.65"/>
<circle cx="599.4" cy="280.1" r="2.65"/>
<circle cx="607.6" cy="220.2" r="2.65"/>
<circle cx="611.3" cy="206.5" r="2.65"/>
<circle cx="626.2" cy="199.1" r="2.65"/>
<circle cx="635.4" cy="205.1" r="2.65"/>
<circle cx="642.1" cy="202.7" r="2.65"/>
<circle cx="655.7" cy="198.7" r="2.65"/>
<circle cx="666.8" cy="202.1" r="2.65"/>
<circle cx="621.3" cy="209.5" r="2.65"/>
<circle cx="625.8" cy="211.0" r="2.65"/>
<circle cx="626.5" cy="215.0" r="2.65"/>
<circle cx="629.5" cy="218.4" r="2.65"/>
<circle cx="615.4" cy="216.2" r="2.65"/>
<circle cx="637.6" cy="211.3" r="2.65"/>
<circle cx="639.1" cy="217.2" r="2.65"/>
<circle cx="636.9" cy="220.2" r="2.65"/>
<circle cx="642.1" cy="222.7" r="2.65"/>
<circle cx="646.5" cy="220.2" r="2.65"/>
<circle cx="636.9" cy="224.6" r="2.65"/>
<circle cx="628.7" cy="223.9" r="2.65"/>
<circle cx="623.5" cy="226.8" r="2.65"/>
<circle cx="619.5" cy="225.3" r="2.65"/>
<circle cx="613.6" cy="229.3" r="2.65"/>
<circle cx="618.4" cy="231.0" r="2.65"/>
<circle cx="609.5" cy="236.5" r="2.65"/>
<circle cx="613.2" cy="237.9" r="2.65"/>
<circle cx="616.9" cy="238.4" r="2.65"/>
<circle cx="623.5" cy="238.4" r="2.65"/>
<circle cx="614.7" cy="243.1" r="2.65"/>
<circle cx="621.3" cy="245.3" r="2.65"/>
<circle cx="628.0" cy="242.1" r="2.65"/>
<circle cx="634.6" cy="235.0" r="2.65"/>
<circle cx="637.3" cy="230.1" r="2.65"/>
<circle cx="645.0" cy="231.3" r="2.65"/>
<circle cx="652.4" cy="230.5" r="2.65"/>
<circle cx="651.7" cy="234.2" r="2.65"/>
<circle cx="653.2" cy="237.2" r="2.65"/>
<circle cx="661.3" cy="232.0" r="2.65"/>
<circle cx="662.0" cy="242.1" r="2.65"/>
<circle cx="633.9" cy="243.6" r="2.65"/>
<circle cx="639.8" cy="243.9" r="2.65"/>
<circle cx="639.8" cy="248.3" r="2.65"/>
<circle cx="623.5" cy="249.5" r="2.65"/>
<circle cx="627.2" cy="249.0" r="2.65"/>
<circle cx="633.2" cy="253.9" r="2.65"/>
<circle cx="646.5" cy="247.6" r="2.65"/>
<circle cx="649.5" cy="246.1" r="2.65"/>
<circle cx="653.9" cy="246.5" r="2.65"/>
<circle cx="646.5" cy="251.3" r="2.65"/>
<circle cx="656.9" cy="251.3" r="2.65"/>
<circle cx="656.1" cy="257.2" r="2.65"/>
<circle cx="658.3" cy="260.1" r="2.65"/>
<circle cx="659.1" cy="263.1" r="2.65"/>
<circle cx="654.6" cy="266.1" r="2.65"/>
<circle cx="663.5" cy="263.1" r="2.65"/>
<circle cx="665.7" cy="260.1" r="2.65"/>
<circle cx="668.0" cy="257.2" r="2.65"/>
<circle cx="670.9" cy="254.7" r="2.65"/>
<circle cx="667.2" cy="249.0" r="2.65"/>
<circle cx="670.2" cy="246.1" r="2.65"/>
<circle cx="673.9" cy="246.8" r="2.65"/>
<circle cx="680.5" cy="248.7" r="2.65"/>
<circle cx="673.9" cy="241.6" r="2.65"/>
<circle cx="670.9" cy="237.9" r="2.65"/>
<circle cx="668.0" cy="238.7" r="2.65"/>
<circle cx="674.6" cy="236.5" r="2.65"/>
<circle cx="670.9" cy="231.3" r="2.65"/>
<circle cx="678.3" cy="226.1" r="2.65"/>
<circle cx="677.6" cy="230.5" r="2.65"/>
<circle cx="683.5" cy="231.3" r="2.65"/>
<circle cx="683.5" cy="236.5" r="2.65"/>
<circle cx="645.0" cy="212.8" r="2.65"/>
<circle cx="650.2" cy="209.8" r="2.65"/>
<circle cx="654.6" cy="206.1" r="2.65"/>
<circle cx="652.4" cy="213.5" r="2.65"/>
<circle cx="656.9" cy="211.3" r="2.65"/>
<circle cx="659.1" cy="213.5" r="2.65"/>
<circle cx="662.0" cy="214.2" r="2.65"/>
<circle cx="658.3" cy="217.9" r="2.65"/>
<circle cx="657.6" cy="220.9" r="2.65"/>
<circle cx="665.0" cy="218.7" r="2.65"/>
<circle cx="668.0" cy="220.9" r="2.65"/>
<circle cx="670.9" cy="223.1" r="2.65"/>
<circle cx="662.8" cy="224.6" r="2.65"/>
<circle cx="665.7" cy="226.1" r="2.65"/>
<circle cx="674.6" cy="220.9" r="2.65"/>
<circle cx="677.6" cy="217.2" r="2.65"/>
<circle cx="681.3" cy="214.0" r="2.65"/>
<circle cx="682.8" cy="218.4" r="2.65"/>
<circle cx="672.4" cy="211.0" r="2.65"/>
<circle cx="674.6" cy="207.3" r="2.65"/>
<circle cx="616.1" cy="269.8" r="2.65"/>
<circle cx="630.9" cy="269.8" r="2.65"/>
<circle cx="633.2" cy="270.8" r="2.65"/>
<circle cx="643.5" cy="280.9" r="2.65"/>
<circle cx="514.2" cy="287.7" r="2.65"/>
<circle cx="562.8" cy="281.8" r="2.65"/>
<circle cx="563.4" cy="286.2" r="2.65"/>
<circle cx="545.7" cy="297.4" r="2.65"/>
<circle cx="548.7" cy="300.6" r="2.65"/>
<circle cx="579.9" cy="300.3" r="2.65"/>
<circle cx="604.0" cy="283.8" r="2.65"/>
<circle cx="643.8" cy="288.3" r="2.65"/>
</g>
<g clip-path="url(#cp20)" fill="#000">
<circle cx="71.2" cy="465.3" r="2.65"/>
<circle cx="77.2" cy="448.1" r="2.65"/>
<circle cx="76.8" cy="453.3" r="2.65"/>
<circle cx="84.9" cy="456.7" r="2.65"/>
<circle cx="82.7" cy="458.9" r="2.65"/>
<circle cx="82.0" cy="463.4" r="2.65"/>
<circle cx="88.6" cy="462.6" r="2.65"/>
<circle cx="89.8" cy="448.1" r="2.65"/>
<circle cx="84.9" cy="472.2" r="2.65"/>
<circle cx="82.7" cy="481.1" r="2.65"/>
<circle cx="103.5" cy="434.0" r="2.65"/>
<circle cx="103.9" cy="448.6" r="2.65"/>
<circle cx="109.8" cy="436.3" r="2.65"/>
<circle cx="109.8" cy="442.3" r="2.65"/>
<circle cx="110.1" cy="453.4" r="2.65"/>
<circle cx="103.9" cy="467.1" r="2.65"/>
<circle cx="106.4" cy="468.5" r="2.65"/>
<circle cx="106.4" cy="474.2" r="2.65"/>
<circle cx="104.6" cy="480.7" r="2.65"/>
<circle cx="113.8" cy="477.0" r="2.65"/>
<circle cx="116.3" cy="453.3" r="2.65"/>
<circle cx="120.8" cy="434.9" r="2.65"/>
<circle cx="123.4" cy="426.6" r="2.65"/>
<circle cx="123.1" cy="450.5" r="2.65"/>
<circle cx="127.9" cy="451.5" r="2.65"/>
<circle cx="123.1" cy="455.2" r="2.65"/>
<circle cx="123.1" cy="462.9" r="2.65"/>
<circle cx="127.1" cy="467.8" r="2.65"/>
<circle cx="123.4" cy="469.6" r="2.65"/>
<circle cx="120.2" cy="471.9" r="2.65"/>
<circle cx="132.6" cy="436.3" r="2.65"/>
<circle cx="131.6" cy="439.7" r="2.65"/>
<circle cx="130.1" cy="443.4" r="2.65"/>
<circle cx="133.8" cy="464.1" r="2.65"/>
<circle cx="135.3" cy="467.8" r="2.65"/>
<circle cx="139.0" cy="469.3" r="2.65"/>
<circle cx="138.5" cy="446.3" r="2.65"/>
<circle cx="139.0" cy="456.0" r="2.65"/>
<circle cx="143.1" cy="433.8" r="2.65"/>
<circle cx="144.6" cy="414.1" r="2.65"/>
<circle cx="146.4" cy="423.1" r="2.65"/>
<circle cx="149.8" cy="428.3" r="2.65"/>
<circle cx="149.3" cy="441.9" r="2.65"/>
<circle cx="149.1" cy="444.6" r="2.65"/>
<circle cx="151.6" cy="450.8" r="2.65"/>
<circle cx="151.3" cy="454.5" r="2.65"/>
<circle cx="154.5" cy="457.9" r="2.65"/>
<circle cx="149.3" cy="462.3" r="2.65"/>
<circle cx="150.8" cy="470.8" r="2.65"/>
<circle cx="147.6" cy="471.9" r="2.65"/>
<circle cx="143.4" cy="473.0" r="2.65"/>
<circle cx="133.5" cy="473.0" r="2.65"/>
<circle cx="130.1" cy="475.9" r="2.65"/>
<circle cx="128.6" cy="477.1" r="2.65"/>
<circle cx="133.8" cy="478.9" r="2.65"/>
<circle cx="155.6" cy="436.7" r="2.65"/>
<circle cx="159.7" cy="448.1" r="2.65"/>
<circle cx="160.9" cy="419.7" r="2.65"/>
<circle cx="161.9" cy="458.9" r="2.65"/>
<circle cx="164.2" cy="453.0" r="2.65"/>
<circle cx="165.6" cy="440.4" r="2.65"/>
<circle cx="166.4" cy="455.2" r="2.65"/>
<circle cx="167.9" cy="448.6" r="2.65"/>
<circle cx="168.9" cy="423.1" r="2.65"/>
<circle cx="168.9" cy="430.3" r="2.65"/>
<circle cx="171.6" cy="445.6" r="2.65"/>
<circle cx="171.6" cy="451.5" r="2.65"/>
<circle cx="169.3" cy="460.4" r="2.65"/>
<circle cx="167.1" cy="473.0" r="2.65"/>
<circle cx="170.8" cy="471.5" r="2.65"/>
<circle cx="177.6" cy="424.4" r="2.65"/>
<circle cx="187.5" cy="427.1" r="2.65"/>
<circle cx="185.3" cy="431.5" r="2.65"/>
<circle cx="183.1" cy="436.0" r="2.65"/>
<circle cx="180.9" cy="439.7" r="2.65"/>
<circle cx="175.0" cy="444.1" r="2.65"/>
<circle cx="172.0" cy="446.3" r="2.65"/>
<circle cx="178.7" cy="447.8" r="2.65"/>
<circle cx="183.1" cy="451.5" r="2.65"/>
<circle cx="172.7" cy="456.0" r="2.65"/>
<circle cx="176.4" cy="457.4" r="2.65"/>
<circle cx="180.1" cy="456.7" r="2.65"/>
<circle cx="179.4" cy="461.9" r="2.65"/>
<circle cx="184.6" cy="464.1" r="2.65"/>
<circle cx="172.7" cy="467.8" r="2.65"/>
<circle cx="186.8" cy="459.7" r="2.65"/>
<circle cx="192.7" cy="464.8" r="2.65"/>
<circle cx="200.4" cy="468.5" r="2.65"/>
<circle cx="194.2" cy="456.0" r="2.65"/>
<circle cx="194.9" cy="458.9" r="2.65"/>
<circle cx="188.3" cy="448.6" r="2.65"/>
<circle cx="186.1" cy="443.4" r="2.65"/>
<circle cx="190.5" cy="440.4" r="2.65"/>
<circle cx="192.7" cy="436.0" r="2.65"/>
<circle cx="194.2" cy="424.1" r="2.65"/>
<circle cx="197.9" cy="423.4" r="2.65"/>
<circle cx="200.9" cy="428.6" r="2.65"/>
<circle cx="199.4" cy="432.3" r="2.65"/>
<circle cx="197.2" cy="438.2" r="2.65"/>
<circle cx="199.4" cy="443.4" r="2.65"/>
<circle cx="197.9" cy="447.8" r="2.65"/>
<circle cx="199.4" cy="451.5" r="2.65"/>
<circle cx="203.8" cy="452.3" r="2.65"/>
<circle cx="203.1" cy="444.9" r="2.65"/>
<circle cx="206.1" cy="436.7" r="2.65"/>
<circle cx="203.8" cy="432.3" r="2.65"/>
<circle cx="206.1" cy="424.1" r="2.65"/>
<circle cx="207.5" cy="427.8" r="2.65"/>
<circle cx="211.7" cy="423.4" r="2.65"/>
<circle cx="213.5" cy="431.5" r="2.65"/>
<circle cx="211.2" cy="436.0" r="2.65"/>
<circle cx="208.3" cy="438.9" r="2.65"/>
<circle cx="215.7" cy="421.2" r="2.65"/>
<circle cx="217.9" cy="426.3" r="2.65"/>
<circle cx="216.4" cy="435.2" r="2.65"/>
<circle cx="219.4" cy="439.7" r="2.65"/>
<circle cx="223.4" cy="419.7" r="2.65"/>
<circle cx="223.1" cy="427.1" r="2.65"/>
<circle cx="220.9" cy="430.8" r="2.65"/>
<circle cx="223.8" cy="433.0" r="2.65"/>
<circle cx="228.0" cy="424.9" r="2.65"/>
<circle cx="229.0" cy="431.5" r="2.65"/>
<circle cx="226.0" cy="436.7" r="2.65"/>
<circle cx="231.2" cy="427.1" r="2.65"/>
<circle cx="234.9" cy="425.6" r="2.65"/>
<circle cx="235.7" cy="431.5" r="2.65"/>
<circle cx="234.2" cy="436.0" r="2.65"/>
<circle cx="232.0" cy="439.7" r="2.65"/>
<circle cx="229.0" cy="441.9" r="2.65"/>
<circle cx="225.3" cy="444.1" r="2.65"/>
<circle cx="221.6" cy="443.4" r="2.65"/>
<circle cx="218.6" cy="445.6" r="2.65"/>
<circle cx="215.7" cy="447.1" r="2.65"/>
<circle cx="212.7" cy="452.3" r="2.65"/>
<circle cx="210.5" cy="455.2" r="2.65"/>
<circle cx="209.8" cy="458.2" r="2.65"/>
<circle cx="241.6" cy="410.4" r="2.65"/>
<circle cx="241.6" cy="416.0" r="2.65"/>
<circle cx="240.1" cy="420.4" r="2.65"/>
<circle cx="243.1" cy="423.4" r="2.65"/>
<circle cx="245.6" cy="424.9" r="2.65"/>
<circle cx="243.1" cy="429.3" r="2.65"/>
<circle cx="248.2" cy="414.1" r="2.65"/>
<circle cx="253.4" cy="414.5" r="2.65"/>
<circle cx="172.0" cy="465.6" r="2.65"/>
<circle cx="189.8" cy="444.9" r="2.65"/>
<circle cx="209.0" cy="433.0" r="2.65"/>
<circle cx="194.9" cy="444.9" r="2.65"/>
<circle cx="202.3" cy="436.7" r="2.65"/>
<circle cx="181.6" cy="459.7" r="2.65"/>
<circle cx="197.2" cy="430.1" r="2.65"/>
<circle cx="201.6" cy="440.4" r="2.65"/>
<circle cx="195.7" cy="434.5" r="2.65"/>
<circle cx="203.8" cy="439.7" r="2.65"/>
<circle cx="206.8" cy="443.4" r="2.65"/>
<circle cx="201.6" cy="448.6" r="2.65"/>
<circle cx="195.7" cy="451.5" r="2.65"/>
<circle cx="191.2" cy="453.0" r="2.65"/>
<circle cx="187.5" cy="454.5" r="2.65"/>
<circle cx="176.4" cy="450.8" r="2.65"/>
<circle cx="175.0" cy="461.1" r="2.65"/>
<circle cx="177.9" cy="465.6" r="2.65"/>
<circle cx="182.4" cy="446.3" r="2.65"/>
<circle cx="177.2" cy="440.4" r="2.65"/>
<circle cx="184.6" cy="439.7" r="2.65"/>
<circle cx="214.9" cy="427.8" r="2.65"/>
<circle cx="219.4" cy="433.0" r="2.65"/>
<circle cx="223.1" cy="438.9" r="2.65"/>
<circle cx="226.8" cy="429.3" r="2.65"/>
<circle cx="231.2" cy="433.8" r="2.65"/>
<circle cx="232.7" cy="430.1" r="2.65"/>
<circle cx="228.3" cy="437.5" r="2.65"/>
<circle cx="222.3" cy="435.2" r="2.65"/>
<circle cx="212.0" cy="440.4" r="2.65"/>
<circle cx="216.4" cy="441.9" r="2.65"/>
<circle cx="209.0" cy="444.9" r="2.65"/>
<circle cx="213.5" cy="447.1" r="2.65"/>
<circle cx="205.3" cy="448.6" r="2.65"/>
<circle cx="191.2" cy="431.5" r="2.65"/>
<circle cx="189.0" cy="436.0" r="2.65"/>
<circle cx="210.5" cy="427.8" r="2.65"/>
<circle cx="203.1" cy="425.6" r="2.65"/>
<circle cx="231.2" cy="422.6" r="2.65"/>
<circle cx="67.3" cy="489.1" r="2.65"/>
<circle cx="71.7" cy="489.1" r="2.65"/>
<circle cx="67.3" cy="497.4" r="2.65"/>
<circle cx="85.0" cy="489.7" r="2.65"/>
<circle cx="88.5" cy="498.0" r="2.65"/>
<circle cx="97.9" cy="497.1" r="2.65"/>
<circle cx="102.4" cy="491.2" r="2.65"/>
<circle cx="103.2" cy="487.7" r="2.65"/>
<circle cx="116.5" cy="483.8" r="2.65"/>
<circle cx="120.0" cy="490.0" r="2.65"/>
<circle cx="140.1" cy="490.6" r="2.65"/>
</g>
<g clip-path="url(#cp21)" fill="#000">
<circle cx="287.9" cy="496.6" r="2.65"/>
<circle cx="293.1" cy="512.5" r="2.65"/>
<circle cx="296.4" cy="512.5" r="2.65"/>
<circle cx="292.7" cy="521.3" r="2.65"/>
<circle cx="304.2" cy="500.7" r="2.65"/>
<circle cx="305.7" cy="491.4" r="2.65"/>
<circle cx="318.7" cy="513.1" r="2.65"/>
<circle cx="320.5" cy="499.2" r="2.65"/>
<circle cx="321.2" cy="489.9" r="2.65"/>
<circle cx="317.2" cy="522.5" r="2.65"/>
<circle cx="315.8" cy="525.1" r="2.65"/>
<circle cx="324.9" cy="514.0" r="2.65"/>
<circle cx="326.9" cy="512.8" r="2.65"/>
<circle cx="332.0" cy="515.8" r="2.65"/>
<circle cx="329.4" cy="508.1" r="2.65"/>
<circle cx="332.3" cy="506.2" r="2.65"/>
<circle cx="333.1" cy="509.1" r="2.65"/>
<circle cx="331.6" cy="492.6" r="2.65"/>
<circle cx="332.8" cy="490.3" r="2.65"/>
<circle cx="335.0" cy="477.8" r="2.65"/>
<circle cx="338.0" cy="473.6" r="2.65"/>
<circle cx="339.0" cy="481.0" r="2.65"/>
<circle cx="341.7" cy="486.5" r="2.65"/>
<circle cx="346.0" cy="471.4" r="2.65"/>
<circle cx="344.5" cy="498.3" r="2.65"/>
<circle cx="348.6" cy="491.4" r="2.65"/>
<circle cx="355.6" cy="495.5" r="2.65"/>
<circle cx="356.8" cy="491.1" r="2.65"/>
<circle cx="372.3" cy="491.4" r="2.65"/>
<circle cx="375.3" cy="487.4" r="2.65"/>
<circle cx="385.9" cy="487.7" r="2.65"/>
<circle cx="354.1" cy="454.7" r="2.65"/>
<circle cx="361.5" cy="446.2" r="2.65"/>
<circle cx="356.0" cy="463.5" r="2.65"/>
<circle cx="359.0" cy="459.5" r="2.65"/>
<circle cx="362.7" cy="462.5" r="2.65"/>
<circle cx="364.2" cy="458.8" r="2.65"/>
<circle cx="367.1" cy="460.3" r="2.65"/>
<circle cx="367.9" cy="463.2" r="2.65"/>
<circle cx="364.9" cy="466.2" r="2.65"/>
<circle cx="360.5" cy="466.2" r="2.65"/>
<circle cx="362.7" cy="470.6" r="2.65"/>
<circle cx="365.6" cy="471.4" r="2.65"/>
<circle cx="363.1" cy="478.1" r="2.65"/>
<circle cx="370.8" cy="469.2" r="2.65"/>
<circle cx="373.0" cy="465.9" r="2.65"/>
<circle cx="370.8" cy="452.4" r="2.65"/>
<circle cx="374.5" cy="454.7" r="2.65"/>
<circle cx="373.0" cy="458.8" r="2.65"/>
<circle cx="376.8" cy="458.1" r="2.65"/>
<circle cx="378.2" cy="461.8" r="2.65"/>
<circle cx="380.5" cy="449.2" r="2.65"/>
<circle cx="380.5" cy="453.6" r="2.65"/>
<circle cx="385.6" cy="449.2" r="2.65"/>
<circle cx="387.9" cy="453.6" r="2.65"/>
<circle cx="386.4" cy="458.1" r="2.65"/>
<circle cx="388.6" cy="445.5" r="2.65"/>
<circle cx="391.6" cy="446.2" r="2.65"/>
<circle cx="376.8" cy="474.3" r="2.65"/>
<circle cx="379.7" cy="471.4" r="2.65"/>
<circle cx="383.4" cy="467.7" r="2.65"/>
<circle cx="383.4" cy="475.1" r="2.65"/>
<circle cx="384.2" cy="479.5" r="2.65"/>
<circle cx="388.6" cy="472.9" r="2.65"/>
<circle cx="391.6" cy="472.1" r="2.65"/>
<circle cx="400.9" cy="427.1" r="2.65"/>
<circle cx="411.2" cy="422.9" r="2.65"/>
<circle cx="406.1" cy="431.5" r="2.65"/>
<circle cx="403.1" cy="435.2" r="2.65"/>
<circle cx="411.2" cy="433.0" r="2.65"/>
<circle cx="414.9" cy="436.0" r="2.65"/>
<circle cx="407.5" cy="439.7" r="2.65"/>
<circle cx="394.2" cy="438.9" r="2.65"/>
<circle cx="399.4" cy="441.2" r="2.65"/>
<circle cx="396.4" cy="443.4" r="2.65"/>
<circle cx="400.9" cy="447.1" r="2.65"/>
<circle cx="397.9" cy="449.3" r="2.65"/>
<circle cx="402.4" cy="452.3" r="2.65"/>
<circle cx="392.7" cy="446.3" r="2.65"/>
<circle cx="392.0" cy="452.3" r="2.65"/>
<circle cx="395.7" cy="456.0" r="2.65"/>
<circle cx="392.0" cy="458.2" r="2.65"/>
<circle cx="394.2" cy="464.8" r="2.65"/>
<circle cx="403.8" cy="463.8" r="2.65"/>
<circle cx="408.6" cy="462.6" r="2.65"/>
<circle cx="417.5" cy="468.1" r="2.65"/>
<circle cx="422.8" cy="466.3" r="2.65"/>
<circle cx="411.2" cy="445.6" r="2.65"/>
<circle cx="414.2" cy="447.1" r="2.65"/>
<circle cx="412.7" cy="450.0" r="2.65"/>
<circle cx="414.9" cy="453.0" r="2.65"/>
<circle cx="418.6" cy="456.7" r="2.65"/>
<circle cx="419.4" cy="459.7" r="2.65"/>
<circle cx="423.1" cy="458.2" r="2.65"/>
<circle cx="423.8" cy="454.5" r="2.65"/>
<circle cx="426.8" cy="453.0" r="2.65"/>
<circle cx="431.2" cy="454.5" r="2.65"/>
<circle cx="428.3" cy="448.6" r="2.65"/>
<circle cx="431.2" cy="446.3" r="2.65"/>
<circle cx="434.9" cy="445.6" r="2.65"/>
<circle cx="440.1" cy="448.6" r="2.65"/>
<circle cx="442.3" cy="442.6" r="2.65"/>
<circle cx="439.4" cy="439.7" r="2.65"/>
<circle cx="443.8" cy="437.5" r="2.65"/>
<circle cx="445.3" cy="435.2" r="2.65"/>
<circle cx="436.4" cy="436.0" r="2.65"/>
<circle cx="434.2" cy="438.9" r="2.65"/>
<circle cx="430.5" cy="433.8" r="2.65"/>
<circle cx="426.8" cy="437.5" r="2.65"/>
<circle cx="423.8" cy="440.4" r="2.65"/>
<circle cx="420.9" cy="435.2" r="2.65"/>
<circle cx="422.3" cy="431.5" r="2.65"/>
<circle cx="423.8" cy="428.6" r="2.65"/>
<circle cx="423.8" cy="424.1" r="2.65"/>
<circle cx="426.1" cy="424.9" r="2.65"/>
<circle cx="432.7" cy="428.6" r="2.65"/>
<circle cx="435.7" cy="430.1" r="2.65"/>
<circle cx="437.9" cy="430.8" r="2.65"/>
<circle cx="443.1" cy="432.3" r="2.65"/>
<circle cx="447.5" cy="433.0" r="2.65"/>
<circle cx="440.9" cy="421.5" r="2.65"/>
<circle cx="445.3" cy="417.8" r="2.65"/>
<circle cx="448.7" cy="424.1" r="2.65"/>
<circle cx="452.7" cy="422.6" r="2.65"/>
<circle cx="450.5" cy="427.1" r="2.65"/>
<circle cx="454.2" cy="433.0" r="2.65"/>
<circle cx="456.4" cy="427.8" r="2.65"/>
<circle cx="458.2" cy="421.9" r="2.65"/>
<circle cx="461.3" cy="423.4" r="2.65"/>
<circle cx="459.8" cy="435.7" r="2.65"/>
<circle cx="464.5" cy="429.3" r="2.65"/>
<circle cx="468.2" cy="427.4" r="2.65"/>
<circle cx="420.1" cy="440.4" r="2.65"/>
<circle cx="427.5" cy="441.9" r="2.65"/>
<circle cx="432.0" cy="440.4" r="2.65"/>
<circle cx="425.3" cy="446.3" r="2.65"/>
<circle cx="421.6" cy="448.6" r="2.65"/>
<circle cx="417.9" cy="444.9" r="2.65"/>
<circle cx="372.6" cy="438.0" r="2.65"/>
<circle cx="398.9" cy="485.2" r="2.65"/>
<circle cx="373.8" cy="462.5" r="2.65"/>
<circle cx="379.7" cy="464.7" r="2.65"/>
<circle cx="384.2" cy="461.8" r="2.65"/>
<circle cx="388.6" cy="463.2" r="2.65"/>
<circle cx="385.6" cy="469.9" r="2.65"/>
<circle cx="390.8" cy="458.8" r="2.65"/>
<circle cx="390.8" cy="466.2" r="2.65"/>
<circle cx="376.8" cy="467.7" r="2.65"/>
<circle cx="367.9" cy="456.6" r="2.65"/>
<circle cx="393.5" cy="441.9" r="2.65"/>
<circle cx="397.2" cy="446.3" r="2.65"/>
<circle cx="395.0" cy="450.0" r="2.65"/>
<circle cx="399.4" cy="444.9" r="2.65"/>
<circle cx="403.1" cy="441.2" r="2.65"/>
<circle cx="406.8" cy="444.9" r="2.65"/>
<circle cx="409.8" cy="441.2" r="2.65"/>
<circle cx="405.3" cy="448.6" r="2.65"/>
<circle cx="416.4" cy="440.4" r="2.65"/>
<circle cx="414.2" cy="441.9" r="2.65"/>
<circle cx="427.5" cy="433.0" r="2.65"/>
<circle cx="430.5" cy="437.5" r="2.65"/>
<circle cx="434.9" cy="433.0" r="2.65"/>
<circle cx="439.4" cy="434.5" r="2.65"/>
<circle cx="429.0" cy="429.3" r="2.65"/>
<circle cx="440.9" cy="427.8" r="2.65"/>
<circle cx="436.4" cy="425.6" r="2.65"/>
<circle cx="445.3" cy="427.8" r="2.65"/>
<circle cx="451.2" cy="430.8" r="2.65"/>
<circle cx="426.1" cy="444.9" r="2.65"/>
<circle cx="418.6" cy="450.0" r="2.65"/>
<circle cx="415.7" cy="449.3" r="2.65"/>
</g>
<g clip-path="url(#cp22)" fill="#000">
<circle cx="530.1" cy="399.7" r="2.65"/>
<circle cx="534.3" cy="411.8" r="2.65"/>
<circle cx="535.8" cy="416.0" r="2.65"/>
<circle cx="519.8" cy="420.4" r="2.65"/>
<circle cx="517.2" cy="424.1" r="2.65"/>
<circle cx="503.2" cy="424.9" r="2.65"/>
<circle cx="523.9" cy="427.1" r="2.65"/>
<circle cx="524.9" cy="428.6" r="2.65"/>
<circle cx="517.5" cy="433.7" r="2.65"/>
<circle cx="544.9" cy="418.8" r="2.65"/>
<circle cx="548.6" cy="416.3" r="2.65"/>
<circle cx="545.1" cy="427.1" r="2.65"/>
<circle cx="539.9" cy="431.8" r="2.65"/>
<circle cx="542.4" cy="439.2" r="2.65"/>
<circle cx="529.1" cy="446.9" r="2.65"/>
<circle cx="535.3" cy="450.3" r="2.65"/>
<circle cx="512.4" cy="459.2" r="2.65"/>
<circle cx="522.4" cy="463.9" r="2.65"/>
<circle cx="501.3" cy="454.5" r="2.65"/>
<circle cx="560.2" cy="409.3" r="2.65"/>
<circle cx="563.1" cy="411.1" r="2.65"/>
<circle cx="559.4" cy="417.0" r="2.65"/>
<circle cx="559.1" cy="419.2" r="2.65"/>
<circle cx="560.9" cy="425.9" r="2.65"/>
<circle cx="559.4" cy="428.1" r="2.65"/>
<circle cx="563.6" cy="427.4" r="2.65"/>
<circle cx="568.3" cy="421.2" r="2.65"/>
<circle cx="567.6" cy="425.2" r="2.65"/>
<circle cx="572.0" cy="424.4" r="2.65"/>
<circle cx="574.2" cy="421.2" r="2.65"/>
<circle cx="575.0" cy="410.3" r="2.65"/>
<circle cx="567.3" cy="434.5" r="2.65"/>
<circle cx="577.9" cy="435.1" r="2.65"/>
<circle cx="555.4" cy="438.5" r="2.65"/>
<circle cx="558.7" cy="440.7" r="2.65"/>
<circle cx="561.7" cy="440.3" r="2.65"/>
<circle cx="563.1" cy="444.1" r="2.65"/>
<circle cx="553.5" cy="444.4" r="2.65"/>
<circle cx="556.9" cy="452.2" r="2.65"/>
<circle cx="569.1" cy="447.4" r="2.65"/>
<circle cx="577.2" cy="446.9" r="2.65"/>
<circle cx="574.2" cy="453.0" r="2.65"/>
<circle cx="571.6" cy="459.9" r="2.65"/>
<circle cx="577.5" cy="459.9" r="2.65"/>
<circle cx="579.4" cy="465.1" r="2.65"/>
<circle cx="586.8" cy="459.9" r="2.65"/>
<circle cx="589.3" cy="458.5" r="2.65"/>
<circle cx="584.9" cy="420.7" r="2.65"/>
<circle cx="590.1" cy="423.4" r="2.65"/>
<circle cx="590.5" cy="411.4" r="2.65"/>
<circle cx="598.7" cy="405.9" r="2.65"/>
<circle cx="600.9" cy="415.1" r="2.65"/>
<circle cx="598.2" cy="421.5" r="2.65"/>
<circle cx="605.3" cy="400.7" r="2.65"/>
<circle cx="606.8" cy="405.2" r="2.65"/>
<circle cx="606.8" cy="420.0" r="2.65"/>
<circle cx="596.7" cy="438.2" r="2.65"/>
<circle cx="593.9" cy="443.7" r="2.65"/>
<circle cx="593.9" cy="447.4" r="2.65"/>
<circle cx="603.6" cy="446.6" r="2.65"/>
<circle cx="608.0" cy="440.0" r="2.65"/>
<circle cx="610.2" cy="405.9" r="2.65"/>
<circle cx="611.7" cy="408.1" r="2.65"/>
<circle cx="624.3" cy="395.5" r="2.65"/>
<circle cx="622.1" cy="397.8" r="2.65"/>
<circle cx="618.4" cy="404.4" r="2.65"/>
<circle cx="626.5" cy="403.7" r="2.65"/>
<circle cx="629.5" cy="405.2" r="2.65"/>
<circle cx="616.6" cy="412.6" r="2.65"/>
<circle cx="618.4" cy="418.2" r="2.65"/>
<circle cx="615.4" cy="423.7" r="2.65"/>
<circle cx="614.2" cy="427.7" r="2.65"/>
<circle cx="616.1" cy="434.5" r="2.65"/>
<circle cx="619.5" cy="439.7" r="2.65"/>
<circle cx="625.8" cy="425.6" r="2.65"/>
<circle cx="630.2" cy="418.2" r="2.65"/>
<circle cx="633.9" cy="427.4" r="2.65"/>
<circle cx="631.7" cy="431.1" r="2.65"/>
<circle cx="628.4" cy="433.3" r="2.65"/>
<circle cx="626.8" cy="444.0" r="2.65"/>
<circle cx="620.6" cy="450.8" r="2.65"/>
<circle cx="623.2" cy="451.1" r="2.65"/>
<circle cx="622.1" cy="457.7" r="2.65"/>
<circle cx="638.3" cy="406.9" r="2.65"/>
<circle cx="641.3" cy="401.9" r="2.65"/>
<circle cx="644.7" cy="402.2" r="2.65"/>
<circle cx="648.7" cy="406.6" r="2.65"/>
<circle cx="649.9" cy="408.9" r="2.65"/>
<circle cx="652.0" cy="397.0" r="2.65"/>
<circle cx="657.9" cy="396.3" r="2.65"/>
<circle cx="661.6" cy="390.7" r="2.65"/>
<circle cx="669.9" cy="388.4" r="2.65"/>
<circle cx="677.3" cy="391.1" r="2.65"/>
<circle cx="677.6" cy="397.8" r="2.65"/>
<circle cx="672.4" cy="399.0" r="2.65"/>
<circle cx="674.6" cy="402.9" r="2.65"/>
<circle cx="678.3" cy="406.6" r="2.65"/>
<circle cx="672.4" cy="405.2" r="2.65"/>
<circle cx="662.0" cy="402.2" r="2.65"/>
<circle cx="664.0" cy="404.4" r="2.65"/>
<circle cx="665.3" cy="411.1" r="2.65"/>
<circle cx="655.7" cy="411.1" r="2.65"/>
<circle cx="642.1" cy="417.5" r="2.65"/>
<circle cx="650.2" cy="419.2" r="2.65"/>
<circle cx="657.6" cy="419.2" r="2.65"/>
<circle cx="658.3" cy="422.9" r="2.65"/>
<circle cx="655.4" cy="425.2" r="2.65"/>
<circle cx="651.7" cy="425.9" r="2.65"/>
<circle cx="643.5" cy="422.9" r="2.65"/>
<circle cx="644.0" cy="427.4" r="2.65"/>
<circle cx="642.8" cy="432.6" r="2.65"/>
<circle cx="645.8" cy="433.3" r="2.65"/>
<circle cx="640.1" cy="437.7" r="2.65"/>
<circle cx="652.4" cy="431.1" r="2.65"/>
<circle cx="654.6" cy="434.0" r="2.65"/>
<circle cx="655.4" cy="436.3" r="2.65"/>
<circle cx="642.5" cy="446.6" r="2.65"/>
<circle cx="646.5" cy="447.1" r="2.65"/>
<circle cx="656.1" cy="444.8" r="2.65"/>
<circle cx="662.8" cy="448.4" r="2.65"/>
<circle cx="646.8" cy="459.9" r="2.65"/>
<circle cx="666.8" cy="422.2" r="2.65"/>
<circle cx="668.0" cy="427.1" r="2.65"/>
<circle cx="675.4" cy="417.5" r="2.65"/>
<circle cx="678.3" cy="418.2" r="2.65"/>
<circle cx="678.8" cy="412.6" r="2.65"/>
<circle cx="685.4" cy="413.8" r="2.65"/>
<circle cx="682.8" cy="421.9" r="2.65"/>
<circle cx="678.6" cy="424.4" r="2.65"/>
<circle cx="676.1" cy="426.6" r="2.65"/>
<circle cx="678.6" cy="428.9" r="2.65"/>
<circle cx="675.4" cy="435.5" r="2.65"/>
<circle cx="685.7" cy="403.4" r="2.65"/>
<circle cx="687.2" cy="406.6" r="2.65"/>
<circle cx="528.7" cy="472.5" r="2.65"/>
<circle cx="517.4" cy="496.3" r="2.65"/>
<circle cx="595.3" cy="467.1" r="2.65"/>
</g>
<g stroke="#000" stroke-width="1.5" fill="none" stroke-linecap="butt">
<line x1="66.10" y1="14.05" x2="66.10" y2="529.25"/>
<line x1="283.77" y1="14.05" x2="283.77" y2="529.25"/>
<line x1="501.43" y1="14.05" x2="501.43" y2="529.25"/>
<line x1="719.10" y1="14.05" x2="719.10" y2="529.25"/>
<line x1="65.35" y1="14.80" x2="719.85" y2="14.80"/>
<line x1="65.35" y1="186.10" x2="719.85" y2="186.10"/>
<line x1="65.35" y1="357.20" x2="719.85" y2="357.20"/>
<line x1="65.35" y1="528.50" x2="719.85" y2="528.50"/>
</g>
<g stroke="#000" stroke-width="1.1" fill="none">
<path d="M73.36 14.80V16.90M80.61 14.80V16.90M87.87 14.80V16.90M95.12 14.80V16.90M102.38 14.80V18.50M109.63 14.80V16.90M116.89 14.80V16.90M124.15 14.80V16.90M131.40 14.80V16.90M138.66 14.80V18.50M145.91 14.80V16.90M153.17 14.80V16.90M160.42 14.80V16.90M167.68 14.80V16.90M174.94 14.80V18.50M182.19 14.80V16.90M189.45 14.80V16.90M196.70 14.80V16.90M203.96 14.80V16.90M211.21 14.80V18.50M218.47 14.80V16.90M225.72 14.80V16.90M232.98 14.80V16.90M240.24 14.80V16.90M247.49 14.80V18.50M254.75 14.80V16.90M262.00 14.80V16.90M269.26 14.80V16.90M276.51 14.80V16.90M291.03 14.80V16.90M298.28 14.80V16.90M305.54 14.80V16.90M312.79 14.80V16.90M320.05 14.80V18.50M327.30 14.80V16.90M334.56 14.80V16.90M341.81 14.80V16.90M349.07 14.80V16.90M356.32 14.80V18.50M363.58 14.80V16.90M370.83 14.80V16.90M378.09 14.80V16.90M385.34 14.80V16.90M392.60 14.80V18.50M399.86 14.80V16.90M407.11 14.80V16.90M414.37 14.80V16.90M421.62 14.80V16.90M428.88 14.80V18.50M436.13 14.80V16.90M443.39 14.80V16.90M450.64 14.80V16.90M457.90 14.80V16.90M465.15 14.80V18.50M472.41 14.80V16.90M479.66 14.80V16.90M486.92 14.80V16.90M494.17 14.80V16.90M508.69 14.80V16.90M515.94 14.80V16.90M523.20 14.80V16.90M530.45 14.80V16.90M537.71 14.80V18.50M544.96 14.80V16.90M552.22 14.80V16.90M559.48 14.80V16.90M566.73 14.80V16.90M573.99 14.80V18.50M581.24 14.80V16.90M588.50 14.80V16.90M595.75 14.80V16.90M603.01 14.80V16.90M610.26 14.80V18.50M617.52 14.80V16.90M624.78 14.80V16.90M632.03 14.80V16.90M639.29 14.80V16.90M646.54 14.80V18.50M653.80 14.80V16.90M661.05 14.80V16.90M668.31 14.80V16.90M675.57 14.80V16.90M682.82 14.80V18.50M690.08 14.80V16.90M697.33 14.80V16.90M704.59 14.80V16.90M711.84 14.80V16.90M73.36 184.00V188.20M80.61 184.00V188.20M87.87 184.00V188.20M95.12 184.00V188.20M102.38 182.40V189.80M109.63 184.00V188.20M116.89 184.00V188.20M124.15 184.00V188.20M131.40 184.00V188.20M138.66 182.40V189.80M145.91 184.00V188.20M153.17 184.00V188.20M160.42 184.00V188.20M167.68 184.00V188.20M174.94 182.40V189.80M182.19 184.00V188.20M189.45 184.00V188.20M196.70 184.00V188.20M203.96 184.00V188.20M211.21 182.40V189.80M218.47 184.00V188.20M225.72 184.00V188.20M232.98 184.00V188.20M240.24 184.00V188.20M247.49 182.40V189.80M254.75 184.00V188.20M262.00 184.00V188.20M269.26 184.00V188.20M276.51 184.00V188.20M291.03 184.00V188.20M298.28 184.00V188.20M305.54 184.00V188.20M312.79 184.00V188.20M320.05 182.40V189.80M327.30 184.00V188.20M334.56 184.00V188.20M341.81 184.00V188.20M349.07 184.00V188.20M356.32 182.40V189.80M363.58 184.00V188.20M370.83 184.00V188.20M378.09 184.00V188.20M385.34 184.00V188.20M392.60 182.40V189.80M399.86 184.00V188.20M407.11 184.00V188.20M414.37 184.00V188.20M421.62 184.00V188.20M428.88 182.40V189.80M436.13 184.00V188.20M443.39 184.00V188.20M450.64 184.00V188.20M457.90 184.00V188.20M465.15 182.40V189.80M472.41 184.00V188.20M479.66 184.00V188.20M486.92 184.00V188.20M494.17 184.00V188.20M508.69 184.00V188.20M515.94 184.00V188.20M523.20 184.00V188.20M530.45 184.00V188.20M537.71 182.40V189.80M544.96 184.00V188.20M552.22 184.00V188.20M559.48 184.00V188.20M566.73 184.00V188.20M573.99 182.40V189.80M581.24 184.00V188.20M588.50 184.00V188.20M595.75 184.00V188.20M603.01 184.00V188.20M610.26 182.40V189.80M617.52 184.00V188.20M624.78 184.00V188.20M632.03 184.00V188.20M639.29 184.00V188.20M646.54 182.40V189.80M653.80 184.00V188.20M661.05 184.00V188.20M668.31 184.00V188.20M675.57 184.00V188.20M682.82 182.40V189.80M690.08 184.00V188.20M697.33 184.00V188.20M704.59 184.00V188.20M711.84 184.00V188.20M73.36 355.10V359.30M80.61 355.10V359.30M87.87 355.10V359.30M95.12 355.10V359.30M102.38 353.50V360.90M109.63 355.10V359.30M116.89 355.10V359.30M124.15 355.10V359.30M131.40 355.10V359.30M138.66 353.50V360.90M145.91 355.10V359.30M153.17 355.10V359.30M160.42 355.10V359.30M167.68 355.10V359.30M174.94 353.50V360.90M182.19 355.10V359.30M189.45 355.10V359.30M196.70 355.10V359.30M203.96 355.10V359.30M211.21 353.50V360.90M218.47 355.10V359.30M225.72 355.10V359.30M232.98 355.10V359.30M240.24 355.10V359.30M247.49 353.50V360.90M254.75 355.10V359.30M262.00 355.10V359.30M269.26 355.10V359.30M276.51 355.10V359.30M291.03 355.10V359.30M298.28 355.10V359.30M305.54 355.10V359.30M312.79 355.10V359.30M320.05 353.50V360.90M327.30 355.10V359.30M334.56 355.10V359.30M341.81 355.10V359.30M349.07 355.10V359.30M356.32 353.50V360.90M363.58 355.10V359.30M370.83 355.10V359.30M378.09 355.10V359.30M385.34 355.10V359.30M392.60 353.50V360.90M399.86 355.10V359.30M407.11 355.10V359.30M414.37 355.10V359.30M421.62 355.10V359.30M428.88 353.50V360.90M436.13 355.10V359.30M443.39 355.10V359.30M450.64 355.10V359.30M457.90 355.10V359.30M465.15 353.50V360.90M472.41 355.10V359.30M479.66 355.10V359.30M486.92 355.10V359.30M494.17 355.10V359.30M508.69 355.10V359.30M515.94 355.10V359.30M523.20 355.10V359.30M530.45 355.10V359.30M537.71 353.50V360.90M544.96 355.10V359.30M552.22 355.10V359.30M559.48 355.10V359.30M566.73 355.10V359.30M573.99 353.50V360.90M581.24 355.10V359.30M588.50 355.10V359.30M595.75 355.10V359.30M603.01 355.10V359.30M610.26 353.50V360.90M617.52 355.10V359.30M624.78 355.10V359.30M632.03 355.10V359.30M639.29 355.10V359.30M646.54 353.50V360.90M653.80 355.10V359.30M661.05 355.10V359.30M668.31 355.10V359.30M675.57 355.10V359.30M682.82 353.50V360.90M690.08 355.10V359.30M697.33 355.10V359.30M704.59 355.10V359.30M711.84 355.10V359.30M73.36 526.40V528.50M80.61 526.40V528.50M87.87 526.40V528.50M95.12 526.40V528.50M102.38 524.80V528.50M109.63 526.40V528.50M116.89 526.40V528.50M124.15 526.40V528.50M131.40 526.40V528.50M138.66 524.80V528.50M145.91 526.40V528.50M153.17 526.40V528.50M160.42 526.40V528.50M167.68 526.40V528.50M174.94 524.80V528.50M182.19 526.40V528.50M189.45 526.40V528.50M196.70 526.40V528.50M203.96 526.40V528.50M211.21 524.80V528.50M218.47 526.40V528.50M225.72 526.40V528.50M232.98 526.40V528.50M240.24 526.40V528.50M247.49 524.80V528.50M254.75 526.40V528.50M262.00 526.40V528.50M269.26 526.40V528.50M276.51 526.40V528.50M291.03 526.40V528.50M298.28 526.40V528.50M305.54 526.40V528.50M312.79 526.40V528.50M320.05 524.80V528.50M327.30 526.40V528.50M334.56 526.40V528.50M341.81 526.40V528.50M349.07 526.40V528.50M356.32 524.80V528.50M363.58 526.40V528.50M370.83 526.40V528.50M378.09 526.40V528.50M385.34 526.40V528.50M392.60 524.80V528.50M399.86 526.40V528.50M407.11 526.40V528.50M414.37 526.40V528.50M421.62 526.40V528.50M428.88 524.80V528.50M436.13 526.40V528.50M443.39 526.40V528.50M450.64 526.40V528.50M457.90 526.40V528.50M465.15 524.80V528.50M472.41 526.40V528.50M479.66 526.40V528.50M486.92 526.40V528.50M494.17 526.40V528.50M508.69 526.40V528.50M515.94 526.40V528.50M523.20 526.40V528.50M530.45 526.40V528.50M537.71 524.80V528.50M544.96 526.40V528.50M552.22 526.40V528.50M559.48 526.40V528.50M566.73 526.40V528.50M573.99 524.80V528.50M581.24 526.40V528.50M588.50 526.40V528.50M595.75 526.40V528.50M603.01 526.40V528.50M610.26 524.80V528.50M617.52 526.40V528.50M624.78 526.40V528.50M632.03 526.40V528.50M639.29 526.40V528.50M646.54 524.80V528.50M653.80 526.40V528.50M661.05 526.40V528.50M668.31 526.40V528.50M675.57 526.40V528.50M682.82 524.80V528.50M690.08 526.40V528.50M697.33 526.40V528.50M704.59 526.40V528.50M711.84 526.40V528.50M66.10 23.37H68.70M66.10 31.93H68.70M66.10 40.50H68.70M66.10 49.06H68.70M66.10 57.62H70.60M66.10 66.19H68.70M66.10 74.75H68.70M66.10 83.32H68.70M66.10 91.88H68.70M66.10 100.45H70.60M66.10 109.01H68.70M66.10 117.58H68.70M66.10 126.14H68.70M66.10 134.71H68.70M66.10 143.27H70.60M66.10 151.84H68.70M66.10 160.41H68.70M66.10 168.97H68.70M66.10 177.53H68.70M66.10 194.66H68.70M66.10 203.21H68.70M66.10 211.76H68.70M66.10 220.32H68.70M66.10 228.88H70.60M66.10 237.43H68.70M66.10 245.99H68.70M66.10 254.54H68.70M66.10 263.09H68.70M66.10 271.65H70.60M66.10 280.20H68.70M66.10 288.76H68.70M66.10 297.31H68.70M66.10 305.87H68.70M66.10 314.42H70.60M66.10 322.98H68.70M66.10 331.53H68.70M66.10 340.09H68.70M66.10 348.64H68.70M66.10 365.76H68.70M66.10 374.33H68.70M66.10 382.89H68.70M66.10 391.46H68.70M66.10 400.02H70.60M66.10 408.59H68.70M66.10 417.15H68.70M66.10 425.72H68.70M66.10 434.28H68.70M66.10 442.85H70.60M66.10 451.41H68.70M66.10 459.98H68.70M66.10 468.54H68.70M66.10 477.11H68.70M66.10 485.67H70.60M66.10 494.24H68.70M66.10 502.81H68.70M66.10 511.37H68.70M66.10 519.93H68.70M281.17 23.37H286.37M281.17 31.93H286.37M281.17 40.50H286.37M281.17 49.06H286.37M279.27 57.62H288.27M281.17 66.19H286.37M281.17 74.75H286.37M281.17 83.32H286.37M281.17 91.88H286.37M279.27 100.45H288.27M281.17 109.01H286.37M281.17 117.58H286.37M281.17 126.14H286.37M281.17 134.71H286.37M279.27 143.27H288.27M281.17 151.84H286.37M281.17 160.41H286.37M281.17 168.97H286.37M281.17 177.53H286.37M281.17 194.66H286.37M281.17 203.21H286.37M281.17 211.76H286.37M281.17 220.32H286.37M279.27 228.88H288.27M281.17 237.43H286.37M281.17 245.99H286.37M281.17 254.54H286.37M281.17 263.09H286.37M279.27 271.65H288.27M281.17 280.20H286.37M281.17 288.76H286.37M281.17 297.31H286.37M281.17 305.87H286.37M279.27 314.42H288.27M281.17 322.98H286.37M281.17 331.53H286.37M281.17 340.09H286.37M281.17 348.64H286.37M281.17 365.76H286.37M281.17 374.33H286.37M281.17 382.89H286.37M281.17 391.46H286.37M279.27 400.02H288.27M281.17 408.59H286.37M281.17 417.15H286.37M281.17 425.72H286.37M281.17 434.28H286.37M279.27 442.85H288.27M281.17 451.41H286.37M281.17 459.98H286.37M281.17 468.54H286.37M281.17 477.11H286.37M279.27 485.67H288.27M281.17 494.24H286.37M281.17 502.81H286.37M281.17 511.37H286.37M281.17 519.93H286.37M498.83 23.37H504.03M498.83 31.93H504.03M498.83 40.50H504.03M498.83 49.06H504.03M496.93 57.62H505.93M498.83 66.19H504.03M498.83 74.75H504.03M498.83 83.32H504.03M498.83 91.88H504.03M496.93 100.45H505.93M498.83 109.01H504.03M498.83 117.58H504.03M498.83 126.14H504.03M498.83 134.71H504.03M496.93 143.27H505.93M498.83 151.84H504.03M498.83 160.41H504.03M498.83 168.97H504.03M498.83 177.53H504.03M498.83 194.66H504.03M498.83 203.21H504.03M498.83 211.76H504.03M498.83 220.32H504.03M496.93 228.88H505.93M498.83 237.43H504.03M498.83 245.99H504.03M498.83 254.54H504.03M498.83 263.09H504.03M496.93 271.65H505.93M498.83 280.20H504.03M498.83 288.76H504.03M498.83 297.31H504.03M498.83 305.87H504.03M496.93 314.42H505.93M498.83 322.98H504.03M498.83 331.53H504.03M498.83 340.09H504.03M498.83 348.64H504.03M498.83 365.76H504.03M498.83 374.33H504.03M498.83 382.89H504.03M498.83 391.46H504.03M496.93 400.02H505.93M498.83 408.59H504.03M498.83 417.15H504.03M498.83 425.72H504.03M498.83 434.28H504.03M496.93 442.85H505.93M498.83 451.41H504.03M498.83 459.98H504.03M498.83 468.54H504.03M498.83 477.11H504.03M496.93 485.67H505.93M498.83 494.24H504.03M498.83 502.81H504.03M498.83 511.37H504.03M498.83 519.93H504.03M716.50 23.37H719.10M716.50 31.93H719.10M716.50 40.50H719.10M716.50 49.06H719.10M714.60 57.62H719.10M716.50 66.19H719.10M716.50 74.75H719.10M716.50 83.32H719.10M716.50 91.88H719.10M714.60 100.45H719.10M716.50 109.01H719.10M716.50 117.58H719.10M716.50 126.14H719.10M716.50 134.71H719.10M714.60 143.27H719.10M716.50 151.84H719.10M716.50 160.41H719.10M716.50 168.97H719.10M716.50 177.53H719.10M716.50 194.66H719.10M716.50 203.21H719.10M716.50 211.76H719.10M716.50 220.32H719.10M714.60 228.88H719.10M716.50 237.43H719.10M716.50 245.99H719.10M716.50 254.54H719.10M716.50 263.09H719.10M714.60 271.65H719.10M716.50 280.20H719.10M716.50 288.76H719.10M716.50 297.31H719.10M716.50 305.87H719.10M714.60 314.42H719.10M716.50 322.98H719.10M716.50 331.53H719.10M716.50 340.09H719.10M716.50 348.64H719.10M716.50 365.76H719.10M716.50 374.33H719.10M716.50 382.89H719.10M716.50 391.46H719.10M714.60 400.02H719.10M716.50 408.59H719.10M716.50 417.15H719.10M716.50 425.72H719.10M716.50 434.28H719.10M714.60 442.85H719.10M716.50 451.41H719.10M716.50 459.98H719.10M716.50 468.54H719.10M716.50 477.11H719.10M714.60 485.67H719.10M716.50 494.24H719.10M716.50 502.81H719.10M716.50 511.37H719.10M716.50 519.93H719.10"/>
</g>
<g clip-path="url(#cp00)" fill="none" stroke-width="1.6">
<polyline points="65.3,123.1 67.1,122.1 68.9,121.1 70.8,120.2 72.6,119.2 74.4,118.2 76.2,117.3 78.0,116.4 79.9,115.5 81.7,114.6 83.5,113.7 85.3,112.8 87.1,111.9 89.0,111.0 90.8,110.2 92.6,109.4 94.4,108.5 96.3,107.7 98.1,106.9 99.9,106.1 101.7,105.4 103.5,104.6 105.4,103.8 107.2,103.1 109.0,102.4 110.8,101.7 112.6,101.0 114.5,100.3 116.3,99.6 118.1,99.0 119.9,98.3 121.7,97.7 123.6,97.0 125.4,96.4 127.2,95.8 129.0,95.3 130.8,94.7 132.7,94.1 134.5,93.6 136.3,93.0 138.1,92.5 139.9,92.0 141.8,91.5 143.6,91.0 145.4,90.5 147.2,90.1 149.0,89.6 150.9,89.2 152.7,88.7 154.5,88.3 156.3,87.9 158.2,87.5 160.0,87.1 161.8,86.7 163.6,86.4 165.4,86.0 167.3,85.7 169.1,85.3 170.9,85.0 172.7,84.7 174.5,84.4 176.4,84.1 178.2,83.8 180.0,83.5 181.8,83.2 183.6,82.9 185.5,82.7 187.3,82.4 189.1,82.2 190.9,81.9 192.7,81.7 194.6,81.5 196.4,81.2 198.2,81.0 200.0,80.8 201.8,80.6 203.7,80.4 205.5,80.3 207.3,80.1 209.1,79.9 210.9,79.7 212.8,79.6 214.6,79.4 216.4,79.2 218.2,79.1 220.1,79.0 221.9,78.8 223.7,78.7 225.5,78.6 227.3,78.4 229.2,78.3 231.0,78.2 232.8,78.1 234.6,78.0 236.4,77.9 238.3,77.8 240.1,77.7 241.9,77.6 243.7,77.5 245.5,77.4 247.4,77.3 249.2,77.2 251.0,77.1 252.8,77.1 254.6,77.0 256.5,76.9 258.3,76.8 260.1,76.8 261.9,76.7 263.7,76.6 265.6,76.6 267.4,76.5 269.2,76.5 271.0,76.4 272.8,76.4 274.7,76.3 276.5,76.3 278.3,76.2 280.1,76.2 281.9,76.1 283.8,76.1" stroke="#00ff00" stroke-dasharray="13.2 6.4"/>
<polyline points="102.4,95.5 103.9,94.4 105.4,93.3 106.9,92.2 108.4,91.2 109.9,90.1 111.4,89.1 113.0,88.1 114.5,87.1 116.0,86.1 117.5,85.1 119.0,84.1 120.5,83.2 122.0,82.3 123.5,81.4 125.1,80.4 126.6,79.6 128.1,78.7 129.6,77.8 131.1,77.0 132.6,76.2 134.1,75.4 135.6,74.6 137.1,73.8 138.7,73.0 140.2,72.3 141.7,71.5 143.2,70.8 144.7,70.1 146.2,69.4 147.7,68.7 149.2,68.1 150.7,67.4 152.3,66.8 153.8,66.2 155.3,65.6 156.8,65.0 158.3,64.5 159.8,63.9 161.3,63.4 162.8,62.8 164.4,62.3 165.9,61.8 167.4,61.3 168.9,60.9 170.4,60.4 171.9,60.0 173.4,59.5 174.9,59.1 176.4,58.7 178.0,58.3 179.5,57.9 181.0,57.6 182.5,57.2 184.0,56.8 185.5,56.5 187.0,56.2 188.5,55.9 190.1,55.5 191.6,55.2 193.1,55.0 194.6,54.7 196.1,54.4 197.6,54.2 199.1,53.9 200.6,53.7 202.1,53.4 203.7,53.2 205.2,53.0 206.7,52.8 208.2,52.6 209.7,52.4 211.2,52.2 212.7,52.0 214.2,51.8 215.7,51.6 217.3,51.5 218.8,51.3 220.3,51.2 221.8,51.0 223.3,50.9 224.8,50.7 226.3,50.6 227.8,50.5 229.4,50.3 230.9,50.2 232.4,50.1 233.9,50.0 235.4,49.9 236.9,49.8 238.4,49.7 239.9,49.6 241.4,49.5 243.0,49.4 244.5,49.3 246.0,49.3 247.5,49.2 249.0,49.1 250.5,49.0 252.0,49.0 253.5,48.9 255.0,48.8 256.6,48.8 258.1,48.7 259.6,48.7 261.1,48.6 262.6,48.5 264.1,48.5 265.6,48.5 267.1,48.4 268.7,48.4 270.2,48.3 271.7,48.3 273.2,48.2 274.7,48.2 276.2,48.2 277.7,48.1 279.2,48.1 280.7,48.1 282.3,48.0 283.8,48.0" stroke="#0000ff" stroke-dasharray="6.9 6.2"/>
<polyline points="102.4,107.3 103.9,106.5 105.4,105.7 106.9,104.9 108.4,104.1 109.9,103.3 111.4,102.5 113.0,101.7 114.5,100.9 116.0,100.2 117.5,99.4 119.0,98.6 120.5,97.9 122.0,97.2 123.5,96.4 125.1,95.7 126.6,95.0 128.1,94.2 129.6,93.5 131.1,92.8 132.6,92.1 134.1,91.4 135.6,90.7 137.1,90.0 138.7,89.4 140.2,88.7 141.7,88.0 143.2,87.4 144.7,86.7 146.2,86.1 147.7,85.5 149.2,84.8 150.7,84.2 152.3,83.6 153.8,83.0 155.3,82.4 156.8,81.8 158.3,81.2 159.8,80.6 161.3,80.0 162.8,79.4 164.4,78.9 165.9,78.3 167.4,77.8 168.9,77.2 170.4,76.7 171.9,76.1 173.4,75.6 174.9,75.1 176.4,74.6 178.0,74.1 179.5,73.6 181.0,73.1 182.5,72.6 184.0,72.1 185.5,71.6 187.0,71.1 188.5,70.7 190.1,70.2 191.6,69.8 193.1,69.3 194.6,68.9 196.1,68.5 197.6,68.0 199.1,67.6 200.6,67.2 202.1,66.8 203.7,66.4 205.2,66.0 206.7,65.6 208.2,65.2 209.7,64.9 211.2,64.5 212.7,64.1 214.2,63.8 215.7,63.4 217.3,63.1 218.8,62.8 220.3,62.4 221.8,62.1 223.3,61.8 224.8,61.5 226.3,61.2 227.8,60.9 229.4,60.6 230.9,60.3 232.4,60.0 233.9,59.8 235.4,59.5 236.9,59.2 238.4,59.0 239.9,58.7 241.4,58.5 243.0,58.3 244.5,58.1 246.0,57.8 247.5,57.6 249.0,57.4 250.5,57.2 252.0,57.0 253.5,56.8 255.0,56.7 256.6,56.5 258.1,56.3 259.6,56.1 261.1,56.0 262.6,55.8 264.1,55.7 265.6,55.6 267.1,55.4 268.7,55.3 270.2,55.2 271.7,55.1 273.2,55.0 274.7,54.9 276.2,54.8 277.7,54.7 279.2,54.6 280.7,54.6 282.3,54.5 283.8,54.4" stroke="#ff0000"/>
</g>
<g clip-path="url(#cp01)" fill="none" stroke-width="1.6">
<polyline points="283.0,123.1 284.8,122.1 286.6,121.1 288.4,120.2 290.3,119.2 292.1,118.2 293.9,117.3 295.7,116.4 297.5,115.5 299.4,114.6 301.2,113.7 303.0,112.8 304.8,111.9 306.6,111.0 308.5,110.2 310.3,109.4 312.1,108.5 313.9,107.7 315.7,106.9 317.6,106.1 319.4,105.4 321.2,104.6 323.0,103.8 324.8,103.1 326.7,102.4 328.5,101.7 330.3,101.0 332.1,100.3 333.9,99.6 335.8,99.0 337.6,98.3 339.4,97.7 341.2,97.0 343.0,96.4 344.9,95.8 346.7,95.3 348.5,94.7 350.3,94.1 352.2,93.6 354.0,93.0 355.8,92.5 357.6,92.0 359.4,91.5 361.3,91.0 363.1,90.5 364.9,90.1 366.7,89.6 368.5,89.2 370.4,88.7 372.2,88.3 374.0,87.9 375.8,87.5 377.6,87.1 379.5,86.7 381.3,86.4 383.1,86.0 384.9,85.7 386.7,85.3 388.6,85.0 390.4,84.7 392.2,84.4 394.0,84.1 395.8,83.8 397.7,83.5 399.5,83.2 401.3,82.9 403.1,82.7 404.9,82.4 406.8,82.2 408.6,81.9 410.4,81.7 412.2,81.5 414.0,81.2 415.9,81.0 417.7,80.8 419.5,80.6 421.3,80.4 423.1,80.3 425.0,80.1 426.8,79.9 428.6,79.7 430.4,79.6 432.3,79.4 434.1,79.2 435.9,79.1 437.7,79.0 439.5,78.8 441.4,78.7 443.2,78.6 445.0,78.4 446.8,78.3 448.6,78.2 450.5,78.1 452.3,78.0 454.1,77.9 455.9,77.8 457.7,77.7 459.6,77.6 461.4,77.5 463.2,77.4 465.0,77.3 466.8,77.2 468.7,77.1 470.5,77.1 472.3,77.0 474.1,76.9 475.9,76.8 477.8,76.8 479.6,76.7 481.4,76.6 483.2,76.6 485.0,76.5 486.9,76.5 488.7,76.4 490.5,76.4 492.3,76.3 494.1,76.3 496.0,76.2 497.8,76.2 499.6,76.1 501.4,76.1" stroke="#00ff00" stroke-dasharray="13.2 6.4"/>
<polyline points="320.0,95.5 321.6,94.4 323.1,93.3 324.6,92.2 326.1,91.2 327.6,90.1 329.1,89.1 330.6,88.1 332.1,87.1 333.7,86.1 335.2,85.1 336.7,84.1 338.2,83.2 339.7,82.3 341.2,81.4 342.7,80.4 344.2,79.6 345.7,78.7 347.3,77.8 348.8,77.0 350.3,76.2 351.8,75.4 353.3,74.6 354.8,73.8 356.3,73.0 357.8,72.3 359.3,71.5 360.9,70.8 362.4,70.1 363.9,69.4 365.4,68.7 366.9,68.1 368.4,67.4 369.9,66.8 371.4,66.2 373.0,65.6 374.5,65.0 376.0,64.5 377.5,63.9 379.0,63.4 380.5,62.8 382.0,62.3 383.5,61.8 385.0,61.3 386.6,60.9 388.1,60.4 389.6,60.0 391.1,59.5 392.6,59.1 394.1,58.7 395.6,58.3 397.1,57.9 398.6,57.6 400.2,57.2 401.7,56.8 403.2,56.5 404.7,56.2 406.2,55.9 407.7,55.5 409.2,55.2 410.7,55.0 412.2,54.7 413.8,54.4 415.3,54.2 416.8,53.9 418.3,53.7 419.8,53.4 421.3,53.2 422.8,53.0 424.3,52.8 425.9,52.6 427.4,52.4 428.9,52.2 430.4,52.0 431.9,51.8 433.4,51.6 434.9,51.5 436.4,51.3 437.9,51.2 439.5,51.0 441.0,50.9 442.5,50.7 444.0,50.6 445.5,50.5 447.0,50.3 448.5,50.2 450.0,50.1 451.5,50.0 453.1,49.9 454.6,49.8 456.1,49.7 457.6,49.6 459.1,49.5 460.6,49.4 462.1,49.3 463.6,49.3 465.2,49.2 466.7,49.1 468.2,49.0 469.7,49.0 471.2,48.9 472.7,48.8 474.2,48.8 475.7,48.7 477.2,48.7 478.8,48.6 480.3,48.5 481.8,48.5 483.3,48.5 484.8,48.4 486.3,48.4 487.8,48.3 489.3,48.3 490.8,48.2 492.4,48.2 493.9,48.2 495.4,48.1 496.9,48.1 498.4,48.1 499.9,48.0 501.4,48.0" stroke="#0000ff" stroke-dasharray="6.9 6.2"/>
<polyline points="320.0,107.3 321.6,106.5 323.1,105.7 324.6,104.9 326.1,104.1 327.6,103.3 329.1,102.5 330.6,101.7 332.1,100.9 333.7,100.2 335.2,99.4 336.7,98.6 338.2,97.9 339.7,97.2 341.2,96.4 342.7,95.7 344.2,95.0 345.7,94.2 347.3,93.5 348.8,92.8 350.3,92.1 351.8,91.4 353.3,90.7 354.8,90.0 356.3,89.4 357.8,88.7 359.3,88.0 360.9,87.4 362.4,86.7 363.9,86.1 365.4,85.5 366.9,84.8 368.4,84.2 369.9,83.6 371.4,83.0 373.0,82.4 374.5,81.8 376.0,81.2 377.5,80.6 379.0,80.0 380.5,79.4 382.0,78.9 383.5,78.3 385.0,77.8 386.6,77.2 388.1,76.7 389.6,76.1 391.1,75.6 392.6,75.1 394.1,74.6 395.6,74.1 397.1,73.6 398.6,73.1 400.2,72.6 401.7,72.1 403.2,71.6 404.7,71.1 406.2,70.7 407.7,70.2 409.2,69.8 410.7,69.3 412.2,68.9 413.8,68.5 415.3,68.0 416.8,67.6 418.3,67.2 419.8,66.8 421.3,66.4 422.8,66.0 424.3,65.6 425.9,65.2 427.4,64.9 428.9,64.5 430.4,64.1 431.9,63.8 433.4,63.4 434.9,63.1 436.4,62.8 437.9,62.4 439.5,62.1 441.0,61.8 442.5,61.5 444.0,61.2 445.5,60.9 447.0,60.6 448.5,60.3 450.0,60.0 451.5,59.8 453.1,59.5 454.6,59.2 456.1,59.0 457.6,58.7 459.1,58.5 460.6,58.3 462.1,58.1 463.6,57.8 465.2,57.6 466.7,57.4 468.2,57.2 469.7,57.0 471.2,56.8 472.7,56.7 474.2,56.5 475.7,56.3 477.2,56.1 478.8,56.0 480.3,55.8 481.8,55.7 483.3,55.6 484.8,55.4 486.3,55.3 487.8,55.2 489.3,55.1 490.8,55.0 492.4,54.9 493.9,54.8 495.4,54.7 496.9,54.6 498.4,54.6 499.9,54.5 501.4,54.4" stroke="#ff0000"/>
</g>
<g clip-path="url(#cp02)" fill="none" stroke-width="1.6">
<polyline points="500.6,123.1 502.5,122.1 504.3,121.1 506.1,120.2 507.9,119.2 509.7,118.2 511.6,117.3 513.4,116.4 515.2,115.5 517.0,114.6 518.8,113.7 520.7,112.8 522.5,111.9 524.3,111.0 526.1,110.2 527.9,109.4 529.8,108.5 531.6,107.7 533.4,106.9 535.2,106.1 537.0,105.4 538.9,104.6 540.7,103.8 542.5,103.1 544.3,102.4 546.1,101.7 548.0,101.0 549.8,100.3 551.6,99.6 553.4,99.0 555.2,98.3 557.1,97.7 558.9,97.0 560.7,96.4 562.5,95.8 564.4,95.3 566.2,94.7 568.0,94.1 569.8,93.6 571.6,93.0 573.5,92.5 575.3,92.0 577.1,91.5 578.9,91.0 580.7,90.5 582.6,90.1 584.4,89.6 586.2,89.2 588.0,88.7 589.8,88.3 591.7,87.9 593.5,87.5 595.3,87.1 597.1,86.7 598.9,86.4 600.8,86.0 602.6,85.7 604.4,85.3 606.2,85.0 608.0,84.7 609.9,84.4 611.7,84.1 613.5,83.8 615.3,83.5 617.1,83.2 619.0,82.9 620.8,82.7 622.6,82.4 624.4,82.2 626.3,81.9 628.1,81.7 629.9,81.5 631.7,81.2 633.5,81.0 635.4,80.8 637.2,80.6 639.0,80.4 640.8,80.3 642.6,80.1 644.5,79.9 646.3,79.7 648.1,79.6 649.9,79.4 651.7,79.2 653.6,79.1 655.4,79.0 657.2,78.8 659.0,78.7 660.8,78.6 662.7,78.4 664.5,78.3 666.3,78.2 668.1,78.1 669.9,78.0 671.8,77.9 673.6,77.8 675.4,77.7 677.2,77.6 679.0,77.5 680.9,77.4 682.7,77.3 684.5,77.2 686.3,77.1 688.2,77.1 690.0,77.0 691.8,76.9 693.6,76.8 695.4,76.8 697.3,76.7 699.1,76.6 700.9,76.6 702.7,76.5 704.5,76.5 706.4,76.4 708.2,76.4 710.0,76.3 711.8,76.3 713.6,76.2 715.5,76.2 717.3,76.1 719.1,76.1" stroke="#00ff00" stroke-dasharray="13.2 6.4"/>
<polyline points="537.7,95.5 539.2,94.4 540.7,93.3 542.2,92.2 543.8,91.2 545.3,90.1 546.8,89.1 548.3,88.1 549.8,87.1 551.3,86.1 552.8,85.1 554.3,84.1 555.8,83.2 557.4,82.3 558.9,81.4 560.4,80.4 561.9,79.6 563.4,78.7 564.9,77.8 566.4,77.0 567.9,76.2 569.5,75.4 571.0,74.6 572.5,73.8 574.0,73.0 575.5,72.3 577.0,71.5 578.5,70.8 580.0,70.1 581.5,69.4 583.1,68.7 584.6,68.1 586.1,67.4 587.6,66.8 589.1,66.2 590.6,65.6 592.1,65.0 593.6,64.5 595.1,63.9 596.7,63.4 598.2,62.8 599.7,62.3 601.2,61.8 602.7,61.3 604.2,60.9 605.7,60.4 607.2,60.0 608.8,59.5 610.3,59.1 611.8,58.7 613.3,58.3 614.8,57.9 616.3,57.6 617.8,57.2 619.3,56.8 620.8,56.5 622.4,56.2 623.9,55.9 625.4,55.5 626.9,55.2 628.4,55.0 629.9,54.7 631.4,54.4 632.9,54.2 634.5,53.9 636.0,53.7 637.5,53.4 639.0,53.2 640.5,53.0 642.0,52.8 643.5,52.6 645.0,52.4 646.5,52.2 648.1,52.0 649.6,51.8 651.1,51.6 652.6,51.5 654.1,51.3 655.6,51.2 657.1,51.0 658.6,50.9 660.1,50.7 661.7,50.6 663.2,50.5 664.7,50.3 666.2,50.2 667.7,50.1 669.2,50.0 670.7,49.9 672.2,49.8 673.8,49.7 675.3,49.6 676.8,49.5 678.3,49.4 679.8,49.3 681.3,49.3 682.8,49.2 684.3,49.1 685.8,49.0 687.4,49.0 688.9,48.9 690.4,48.8 691.9,48.8 693.4,48.7 694.9,48.7 696.4,48.6 697.9,48.5 699.4,48.5 701.0,48.5 702.5,48.4 704.0,48.4 705.5,48.3 707.0,48.3 708.5,48.2 710.0,48.2 711.5,48.2 713.1,48.1 714.6,48.1 716.1,48.1 717.6,48.0 719.1,48.0" stroke="#0000ff" stroke-dasharray="6.9 6.2"/>
<polyline points="537.7,107.3 539.2,106.5 540.7,105.7 542.2,104.9 543.8,104.1 545.3,103.3 546.8,102.5 548.3,101.7 549.8,100.9 551.3,100.2 552.8,99.4 554.3,98.6 555.8,97.9 557.4,97.2 558.9,96.4 560.4,95.7 561.9,95.0 563.4,94.2 564.9,93.5 566.4,92.8 567.9,92.1 569.5,91.4 571.0,90.7 572.5,90.0 574.0,89.4 575.5,88.7 577.0,88.0 578.5,87.4 580.0,86.7 581.5,86.1 583.1,85.5 584.6,84.8 586.1,84.2 587.6,83.6 589.1,83.0 590.6,82.4 592.1,81.8 593.6,81.2 595.1,80.6 596.7,80.0 598.2,79.4 599.7,78.9 601.2,78.3 602.7,77.8 604.2,77.2 605.7,76.7 607.2,76.1 608.8,75.6 610.3,75.1 611.8,74.6 613.3,74.1 614.8,73.6 616.3,73.1 617.8,72.6 619.3,72.1 620.8,71.6 622.4,71.1 623.9,70.7 625.4,70.2 626.9,69.8 628.4,69.3 629.9,68.9 631.4,68.5 632.9,68.0 634.5,67.6 636.0,67.2 637.5,66.8 639.0,66.4 640.5,66.0 642.0,65.6 643.5,65.2 645.0,64.9 646.5,64.5 648.1,64.1 649.6,63.8 651.1,63.4 652.6,63.1 654.1,62.8 655.6,62.4 657.1,62.1 658.6,61.8 660.1,61.5 661.7,61.2 663.2,60.9 664.7,60.6 666.2,60.3 667.7,60.0 669.2,59.8 670.7,59.5 672.2,59.2 673.8,59.0 675.3,58.7 676.8,58.5 678.3,58.3 679.8,58.1 681.3,57.8 682.8,57.6 684.3,57.4 685.8,57.2 687.4,57.0 688.9,56.8 690.4,56.7 691.9,56.5 693.4,56.3 694.9,56.1 696.4,56.0 697.9,55.8 699.4,55.7 701.0,55.6 702.5,55.4 704.0,55.3 705.5,55.2 707.0,55.1 708.5,55.0 710.0,54.9 711.5,54.8 713.1,54.7 714.6,54.6 716.1,54.6 717.6,54.5 719.1,54.4" stroke="#ff0000"/>
</g>
<g clip-path="url(#cp10)" fill="none" stroke-width="1.6">
<polyline points="65.3,323.0 67.1,321.4 68.9,319.9 70.8,318.5 72.6,317.0 74.4,315.5 76.2,314.0 78.0,312.6 79.9,311.2 81.7,309.7 83.5,308.3 85.3,306.9 87.1,305.6 89.0,304.2 90.8,302.8 92.6,301.5 94.4,300.1 96.3,298.8 98.1,297.5 99.9,296.2 101.7,294.9 103.5,293.6 105.4,292.4 107.2,291.1 109.0,289.9 110.8,288.6 112.6,287.4 114.5,286.2 116.3,285.0 118.1,283.9 119.9,282.7 121.7,281.5 123.6,280.4 125.4,279.2 127.2,278.1 129.0,277.0 130.8,275.9 132.7,274.8 134.5,273.8 136.3,272.7 138.1,271.7 139.9,270.6 141.8,269.6 143.6,268.6 145.4,267.6 147.2,266.6 149.0,265.6 150.9,264.7 152.7,263.7 154.5,262.8 156.3,261.8 158.2,260.9 160.0,260.0 161.8,259.1 163.6,258.2 165.4,257.4 167.3,256.5 169.1,255.7 170.9,254.8 172.7,254.0 174.5,253.2 176.4,252.4 178.2,251.6 180.0,250.9 181.8,250.1 183.6,249.4 185.5,248.6 187.3,247.9 189.1,247.2 190.9,246.5 192.7,245.8 194.6,245.1 196.4,244.5 198.2,243.8 200.0,243.2 201.8,242.5 203.7,241.9 205.5,241.3 207.3,240.7 209.1,240.2 210.9,239.6 212.8,239.0 214.6,238.5 216.4,238.0 218.2,237.4 220.1,236.9 221.9,236.4 223.7,236.0 225.5,235.5 227.3,235.0 229.2,234.6 231.0,234.1 232.8,233.7 234.6,233.3 236.4,232.9 238.3,232.5 240.1,232.1 241.9,231.8 243.7,231.4 245.5,231.1 247.4,230.8 249.2,230.4 251.0,230.1 252.8,229.9 254.6,229.6 256.5,229.3 258.3,229.1 260.1,228.8 261.9,228.6 263.7,228.4 265.6,228.2 267.4,228.0 269.2,227.8 271.0,227.6 272.8,227.4 274.7,227.3 276.5,227.2 278.3,227.0 280.1,226.9 281.9,226.8 283.8,226.7" stroke="#556b2f" stroke-dasharray="6.8 3.2 1.6 3.1"/>
<polyline points="102.4,285.7 103.9,284.7 105.4,283.7 106.9,282.7 108.4,281.8 109.9,280.8 111.4,279.9 113.0,278.9 114.5,278.0 116.0,277.0 117.5,276.1 119.0,275.1 120.5,274.2 122.0,273.3 123.5,272.4 125.1,271.5 126.6,270.6 128.1,269.7 129.6,268.8 131.1,267.9 132.6,267.0 134.1,266.2 135.6,265.3 137.1,264.5 138.7,263.6 140.2,262.8 141.7,261.9 143.2,261.1 144.7,260.3 146.2,259.5 147.7,258.7 149.2,257.9 150.7,257.1 152.3,256.3 153.8,255.5 155.3,254.8 156.8,254.0 158.3,253.3 159.8,252.5 161.3,251.8 162.8,251.1 164.4,250.4 165.9,249.7 167.4,249.0 168.9,248.3 170.4,247.6 171.9,246.9 173.4,246.3 174.9,245.6 176.4,245.0 178.0,244.3 179.5,243.7 181.0,243.1 182.5,242.5 184.0,241.9 185.5,241.3 187.0,240.7 188.5,240.1 190.1,239.6 191.6,239.0 193.1,238.5 194.6,237.9 196.1,237.4 197.6,236.9 199.1,236.4 200.6,235.9 202.1,235.4 203.7,234.9 205.2,234.4 206.7,234.0 208.2,233.5 209.7,233.1 211.2,232.6 212.7,232.2 214.2,231.8 215.7,231.3 217.3,230.9 218.8,230.5 220.3,230.1 221.8,229.8 223.3,229.4 224.8,229.0 226.3,228.7 227.8,228.3 229.4,228.0 230.9,227.6 232.4,227.3 233.9,227.0 235.4,226.7 236.9,226.4 238.4,226.1 239.9,225.8 241.4,225.5 243.0,225.2 244.5,224.9 246.0,224.7 247.5,224.4 249.0,224.2 250.5,223.9 252.0,223.7 253.5,223.4 255.0,223.2 256.6,223.0 258.1,222.8 259.6,222.5 261.1,222.3 262.6,222.1 264.1,221.9 265.6,221.7 267.1,221.6 268.7,221.4 270.2,221.2 271.7,221.0 273.2,220.9 274.7,220.7 276.2,220.5 277.7,220.4 279.2,220.2 280.7,220.1 282.3,219.9 283.8,219.8" stroke="#0000ff" stroke-dasharray="6.9 6.2"/>
<polyline points="102.4,295.1 103.9,294.2 105.4,293.2 106.9,292.3 108.4,291.4 109.9,290.5 111.4,289.6 113.0,288.7 114.5,287.8 116.0,286.9 117.5,286.0 119.0,285.1 120.5,284.2 122.0,283.4 123.5,282.5 125.1,281.7 126.6,280.8 128.1,280.0 129.6,279.1 131.1,278.3 132.6,277.5 134.1,276.7 135.6,275.9 137.1,275.1 138.7,274.3 140.2,273.5 141.7,272.7 143.2,271.9 144.7,271.2 146.2,270.4 147.7,269.6 149.2,268.9 150.7,268.1 152.3,267.4 153.8,266.7 155.3,266.0 156.8,265.2 158.3,264.5 159.8,263.8 161.3,263.1 162.8,262.4 164.4,261.7 165.9,261.1 167.4,260.4 168.9,259.7 170.4,259.1 171.9,258.4 173.4,257.8 174.9,257.1 176.4,256.5 178.0,255.9 179.5,255.2 181.0,254.6 182.5,254.0 184.0,253.4 185.5,252.8 187.0,252.2 188.5,251.6 190.1,251.1 191.6,250.5 193.1,249.9 194.6,249.4 196.1,248.8 197.6,248.3 199.1,247.7 200.6,247.2 202.1,246.7 203.7,246.2 205.2,245.7 206.7,245.2 208.2,244.7 209.7,244.2 211.2,243.7 212.7,243.2 214.2,242.7 215.7,242.3 217.3,241.8 218.8,241.3 220.3,240.9 221.8,240.4 223.3,240.0 224.8,239.6 226.3,239.2 227.8,238.7 229.4,238.3 230.9,237.9 232.4,237.5 233.9,237.1 235.4,236.8 236.9,236.4 238.4,236.0 239.9,235.6 241.4,235.3 243.0,234.9 244.5,234.6 246.0,234.2 247.5,233.9 249.0,233.6 250.5,233.3 252.0,233.0 253.5,232.6 255.0,232.3 256.6,232.1 258.1,231.8 259.6,231.5 261.1,231.2 262.6,230.9 264.1,230.7 265.6,230.4 267.1,230.2 268.7,229.9 270.2,229.7 271.7,229.5 273.2,229.2 274.7,229.0 276.2,228.8 277.7,228.6 279.2,228.4 280.7,228.2 282.3,228.0 283.8,227.9" stroke="#ff0000"/>
</g>
<g clip-path="url(#cp11)" fill="none" stroke-width="1.6">
<polyline points="283.0,323.0 284.8,321.4 286.6,319.9 288.4,318.5 290.3,317.0 292.1,315.5 293.9,314.0 295.7,312.6 297.5,311.2 299.4,309.7 301.2,308.3 303.0,306.9 304.8,305.6 306.6,304.2 308.5,302.8 310.3,301.5 312.1,300.1 313.9,298.8 315.7,297.5 317.6,296.2 319.4,294.9 321.2,293.6 323.0,292.4 324.8,291.1 326.7,289.9 328.5,288.6 330.3,287.4 332.1,286.2 333.9,285.0 335.8,283.9 337.6,282.7 339.4,281.5 341.2,280.4 343.0,279.2 344.9,278.1 346.7,277.0 348.5,275.9 350.3,274.8 352.2,273.8 354.0,272.7 355.8,271.7 357.6,270.6 359.4,269.6 361.3,268.6 363.1,267.6 364.9,266.6 366.7,265.6 368.5,264.7 370.4,263.7 372.2,262.8 374.0,261.8 375.8,260.9 377.6,260.0 379.5,259.1 381.3,258.2 383.1,257.4 384.9,256.5 386.7,255.7 388.6,254.8 390.4,254.0 392.2,253.2 394.0,252.4 395.8,251.6 397.7,250.9 399.5,250.1 401.3,249.4 403.1,248.6 404.9,247.9 406.8,247.2 408.6,246.5 410.4,245.8 412.2,245.1 414.0,244.5 415.9,243.8 417.7,243.2 419.5,242.5 421.3,241.9 423.1,241.3 425.0,240.7 426.8,240.2 428.6,239.6 430.4,239.0 432.3,238.5 434.1,238.0 435.9,237.4 437.7,236.9 439.5,236.4 441.4,236.0 443.2,235.5 445.0,235.0 446.8,234.6 448.6,234.1 450.5,233.7 452.3,233.3 454.1,232.9 455.9,232.5 457.7,232.1 459.6,231.8 461.4,231.4 463.2,231.1 465.0,230.8 466.8,230.4 468.7,230.1 470.5,229.9 472.3,229.6 474.1,229.3 475.9,229.1 477.8,228.8 479.6,228.6 481.4,228.4 483.2,228.2 485.0,228.0 486.9,227.8 488.7,227.6 490.5,227.4 492.3,227.3 494.1,227.2 496.0,227.0 497.8,226.9 499.6,226.8 501.4,226.7" stroke="#556b2f" stroke-dasharray="6.8 3.2 1.6 3.1"/>
<polyline points="320.0,285.7 321.6,284.7 323.1,283.7 324.6,282.7 326.1,281.8 327.6,280.8 329.1,279.9 330.6,278.9 332.1,278.0 333.7,277.0 335.2,276.1 336.7,275.1 338.2,274.2 339.7,273.3 341.2,272.4 342.7,271.5 344.2,270.6 345.7,269.7 347.3,268.8 348.8,267.9 350.3,267.0 351.8,266.2 353.3,265.3 354.8,264.5 356.3,263.6 357.8,262.8 359.3,261.9 360.9,261.1 362.4,260.3 363.9,259.5 365.4,258.7 366.9,257.9 368.4,257.1 369.9,256.3 371.4,255.5 373.0,254.8 374.5,254.0 376.0,253.3 377.5,252.5 379.0,251.8 380.5,251.1 382.0,250.4 383.5,249.7 385.0,249.0 386.6,248.3 388.1,247.6 389.6,246.9 391.1,246.3 392.6,245.6 394.1,245.0 395.6,244.3 397.1,243.7 398.6,243.1 400.2,242.5 401.7,241.9 403.2,241.3 404.7,240.7 406.2,240.1 407.7,239.6 409.2,239.0 410.7,238.5 412.2,237.9 413.8,237.4 415.3,236.9 416.8,236.4 418.3,235.9 419.8,235.4 421.3,234.9 422.8,234.4 424.3,234.0 425.9,233.5 427.4,233.1 428.9,232.6 430.4,232.2 431.9,231.8 433.4,231.3 434.9,230.9 436.4,230.5 437.9,230.1 439.5,229.8 441.0,229.4 442.5,229.0 444.0,228.7 445.5,228.3 447.0,228.0 448.5,227.6 450.0,227.3 451.5,227.0 453.1,226.7 454.6,226.4 456.1,226.1 457.6,225.8 459.1,225.5 460.6,225.2 462.1,224.9 463.6,224.7 465.2,224.4 466.7,224.2 468.2,223.9 469.7,223.7 471.2,223.4 472.7,223.2 474.2,223.0 475.7,222.8 477.2,222.5 478.8,222.3 480.3,222.1 481.8,221.9 483.3,221.7 484.8,221.6 486.3,221.4 487.8,221.2 489.3,221.0 490.8,220.9 492.4,220.7 493.9,220.5 495.4,220.4 496.9,220.2 498.4,220.1 499.9,219.9 501.4,219.8" stroke="#0000ff" stroke-dasharray="6.9 6.2"/>
<polyline points="320.0,295.1 321.6,294.2 323.1,293.2 324.6,292.3 326.1,291.4 327.6,290.5 329.1,289.6 330.6,288.7 332.1,287.8 333.7,286.9 335.2,286.0 336.7,285.1 338.2,284.2 339.7,283.4 341.2,282.5 342.7,281.7 344.2,280.8 345.7,280.0 347.3,279.1 348.8,278.3 350.3,277.5 351.8,276.7 353.3,275.9 354.8,275.1 356.3,274.3 357.8,273.5 359.3,272.7 360.9,271.9 362.4,271.2 363.9,270.4 365.4,269.6 366.9,268.9 368.4,268.1 369.9,267.4 371.4,266.7 373.0,266.0 374.5,265.2 376.0,264.5 377.5,263.8 379.0,263.1 380.5,262.4 382.0,261.7 383.5,261.1 385.0,260.4 386.6,259.7 388.1,259.1 389.6,258.4 391.1,257.8 392.6,257.1 394.1,256.5 395.6,255.9 397.1,255.2 398.6,254.6 400.2,254.0 401.7,253.4 403.2,252.8 404.7,252.2 406.2,251.6 407.7,251.1 409.2,250.5 410.7,249.9 412.2,249.4 413.8,248.8 415.3,248.3 416.8,247.7 418.3,247.2 419.8,246.7 421.3,246.2 422.8,245.7 424.3,245.2 425.9,244.7 427.4,244.2 428.9,243.7 430.4,243.2 431.9,242.7 433.4,242.3 434.9,241.8 436.4,241.3 437.9,240.9 439.5,240.4 441.0,240.0 442.5,239.6 444.0,239.2 445.5,238.7 447.0,238.3 448.5,237.9 450.0,237.5 451.5,237.1 453.1,236.8 454.6,236.4 456.1,236.0 457.6,235.6 459.1,235.3 460.6,234.9 462.1,234.6 463.6,234.2 465.2,233.9 466.7,233.6 468.2,233.3 469.7,233.0 471.2,232.6 472.7,232.3 474.2,232.1 475.7,231.8 477.2,231.5 478.8,231.2 480.3,230.9 481.8,230.7 483.3,230.4 484.8,230.2 486.3,229.9 487.8,229.7 489.3,229.5 490.8,229.2 492.4,229.0 493.9,228.8 495.4,228.6 496.9,228.4 498.4,228.2 499.9,228.0 501.4,227.9" stroke="#ff0000"/>
</g>
<g clip-path="url(#cp12)" fill="none" stroke-width="1.6">
<polyline points="500.6,323.0 502.5,321.4 504.3,319.9 506.1,318.5 507.9,317.0 509.7,315.5 511.6,314.0 513.4,312.6 515.2,311.2 517.0,309.7 518.8,308.3 520.7,306.9 522.5,305.6 524.3,304.2 526.1,302.8 527.9,301.5 529.8,300.1 531.6,298.8 533.4,297.5 535.2,296.2 537.0,294.9 538.9,293.6 540.7,292.4 542.5,291.1 544.3,289.9 546.1,288.6 548.0,287.4 549.8,286.2 551.6,285.0 553.4,283.9 555.2,282.7 557.1,281.5 558.9,280.4 560.7,279.2 562.5,278.1 564.4,277.0 566.2,275.9 568.0,274.8 569.8,273.8 571.6,272.7 573.5,271.7 575.3,270.6 577.1,269.6 578.9,268.6 580.7,267.6 582.6,266.6 584.4,265.6 586.2,264.7 588.0,263.7 589.8,262.8 591.7,261.8 593.5,260.9 595.3,260.0 597.1,259.1 598.9,258.2 600.8,257.4 602.6,256.5 604.4,255.7 606.2,254.8 608.0,254.0 609.9,253.2 611.7,252.4 613.5,251.6 615.3,250.9 617.1,250.1 619.0,249.4 620.8,248.6 622.6,247.9 624.4,247.2 626.3,246.5 628.1,245.8 629.9,245.1 631.7,244.5 633.5,243.8 635.4,243.2 637.2,242.5 639.0,241.9 640.8,241.3 642.6,240.7 644.5,240.2 646.3,239.6 648.1,239.0 649.9,238.5 651.7,238.0 653.6,237.4 655.4,236.9 657.2,236.4 659.0,236.0 660.8,235.5 662.7,235.0 664.5,234.6 666.3,234.1 668.1,233.7 669.9,233.3 671.8,232.9 673.6,232.5 675.4,232.1 677.2,231.8 679.0,231.4 680.9,231.1 682.7,230.8 684.5,230.4 686.3,230.1 688.2,229.9 690.0,229.6 691.8,229.3 693.6,229.1 695.4,228.8 697.3,228.6 699.1,228.4 700.9,228.2 702.7,228.0 704.5,227.8 706.4,227.6 708.2,227.4 710.0,227.3 711.8,227.2 713.6,227.0 715.5,226.9 717.3,226.8 719.1,226.7" stroke="#556b2f" stroke-dasharray="6.8 3.2 1.6 3.1"/>
<polyline points="537.7,285.7 539.2,284.7 540.7,283.7 542.2,282.7 543.8,281.8 545.3,280.8 546.8,279.9 548.3,278.9 549.8,278.0 551.3,277.0 552.8,276.1 554.3,275.1 555.8,274.2 557.4,273.3 558.9,272.4 560.4,271.5 561.9,270.6 563.4,269.7 564.9,268.8 566.4,267.9 567.9,267.0 569.5,266.2 571.0,265.3 572.5,264.5 574.0,263.6 575.5,262.8 577.0,261.9 578.5,261.1 580.0,260.3 581.5,259.5 583.1,258.7 584.6,257.9 586.1,257.1 587.6,256.3 589.1,255.5 590.6,254.8 592.1,254.0 593.6,253.3 595.1,252.5 596.7,251.8 598.2,251.1 599.7,250.4 601.2,249.7 602.7,249.0 604.2,248.3 605.7,247.6 607.2,246.9 608.8,246.3 610.3,245.6 611.8,245.0 613.3,244.3 614.8,243.7 616.3,243.1 617.8,242.5 619.3,241.9 620.8,241.3 622.4,240.7 623.9,240.1 625.4,239.6 626.9,239.0 628.4,238.5 629.9,237.9 631.4,237.4 632.9,236.9 634.5,236.4 636.0,235.9 637.5,235.4 639.0,234.9 640.5,234.4 642.0,234.0 643.5,233.5 645.0,233.1 646.5,232.6 648.1,232.2 649.6,231.8 651.1,231.3 652.6,230.9 654.1,230.5 655.6,230.1 657.1,229.8 658.6,229.4 660.1,229.0 661.7,228.7 663.2,228.3 664.7,228.0 666.2,227.6 667.7,227.3 669.2,227.0 670.7,226.7 672.2,226.4 673.8,226.1 675.3,225.8 676.8,225.5 678.3,225.2 679.8,224.9 681.3,224.7 682.8,224.4 684.3,224.2 685.8,223.9 687.4,223.7 688.9,223.4 690.4,223.2 691.9,223.0 693.4,222.8 694.9,222.5 696.4,222.3 697.9,222.1 699.4,221.9 701.0,221.7 702.5,221.6 704.0,221.4 705.5,221.2 707.0,221.0 708.5,220.9 710.0,220.7 711.5,220.5 713.1,220.4 714.6,220.2 716.1,220.1 717.6,219.9 719.1,219.8" stroke="#0000ff" stroke-dasharray="6.9 6.2"/>
<polyline points="537.7,295.1 539.2,294.2 540.7,293.2 542.2,292.3 543.8,291.4 545.3,290.5 546.8,289.6 548.3,288.7 549.8,287.8 551.3,286.9 552.8,286.0 554.3,285.1 555.8,284.2 557.4,283.4 558.9,282.5 560.4,281.7 561.9,280.8 563.4,280.0 564.9,279.1 566.4,278.3 567.9,277.5 569.5,276.7 571.0,275.9 572.5,275.1 574.0,274.3 575.5,273.5 577.0,272.7 578.5,271.9 580.0,271.2 581.5,270.4 583.1,269.6 584.6,268.9 586.1,268.1 587.6,267.4 589.1,266.7 590.6,266.0 592.1,265.2 593.6,264.5 595.1,263.8 596.7,263.1 598.2,262.4 599.7,261.7 601.2,261.1 602.7,260.4 604.2,259.7 605.7,259.1 607.2,258.4 608.8,257.8 610.3,257.1 611.8,256.5 613.3,255.9 614.8,255.2 616.3,254.6 617.8,254.0 619.3,253.4 620.8,252.8 622.4,252.2 623.9,251.6 625.4,251.1 626.9,250.5 628.4,249.9 629.9,249.4 631.4,248.8 632.9,248.3 634.5,247.7 636.0,247.2 637.5,246.7 639.0,246.2 640.5,245.7 642.0,245.2 643.5,244.7 645.0,244.2 646.5,243.7 648.1,243.2 649.6,242.7 651.1,242.3 652.6,241.8 654.1,241.3 655.6,240.9 657.1,240.4 658.6,240.0 660.1,239.6 661.7,239.2 663.2,238.7 664.7,238.3 666.2,237.9 667.7,237.5 669.2,237.1 670.7,236.8 672.2,236.4 673.8,236.0 675.3,235.6 676.8,235.3 678.3,234.9 679.8,234.6 681.3,234.2 682.8,233.9 684.3,233.6 685.8,233.3 687.4,233.0 688.9,232.6 690.4,232.3 691.9,232.1 693.4,231.8 694.9,231.5 696.4,231.2 697.9,230.9 699.4,230.7 701.0,230.4 702.5,230.2 704.0,229.9 705.5,229.7 707.0,229.5 708.5,229.2 710.0,229.0 711.5,228.8 713.1,228.6 714.6,228.4 716.1,228.2 717.6,228.0 719.1,227.9" stroke="#ff0000"/>
</g>
<g clip-path="url(#cp20)" fill="none" stroke-width="1.6">
<polyline points="65.3,521.9 67.1,520.8 68.9,519.6 70.8,518.4 72.6,517.3 74.4,516.1 76.2,515.0 78.0,513.9 79.9,512.8 81.7,511.6 83.5,510.5 85.3,509.4 87.1,508.4 89.0,507.3 90.8,506.2 92.6,505.1 94.4,504.1 96.3,503.0 98.1,502.0 99.9,501.0 101.7,499.9 103.5,498.9 105.4,497.9 107.2,496.9 109.0,495.9 110.8,495.0 112.6,494.0 114.5,493.0 116.3,492.1 118.1,491.1 119.9,490.2 121.7,489.2 123.6,488.3 125.4,487.4 127.2,486.5 129.0,485.6 130.8,484.7 132.7,483.8 134.5,482.9 136.3,482.0 138.1,481.2 139.9,480.3 141.8,479.5 143.6,478.6 145.4,477.8 147.2,477.0 149.0,476.2 150.9,475.4 152.7,474.6 154.5,473.8 156.3,473.0 158.2,472.2 160.0,471.5 161.8,470.7 163.6,470.0 165.4,469.2 167.3,468.5 169.1,467.8 170.9,467.1 172.7,466.3 174.5,465.6 176.4,465.0 178.2,464.3 180.0,463.6 181.8,462.9 183.6,462.3 185.5,461.6 187.3,461.0 189.1,460.3 190.9,459.7 192.7,459.1 194.6,458.5 196.4,457.9 198.2,457.3 200.0,456.7 201.8,456.1 203.7,455.5 205.5,455.0 207.3,454.4 209.1,453.9 210.9,453.3 212.8,452.8 214.6,452.3 216.4,451.8 218.2,451.3 220.1,450.8 221.9,450.3 223.7,449.8 225.5,449.3 227.3,448.9 229.2,448.4 231.0,448.0 232.8,447.5 234.6,447.1 236.4,446.7 238.3,446.2 240.1,445.8 241.9,445.4 243.7,445.0 245.5,444.6 247.4,444.3 249.2,443.9 251.0,443.5 252.8,443.2 254.6,442.8 256.5,442.5 258.3,442.2 260.1,441.9 261.9,441.6 263.7,441.2 265.6,441.0 267.4,440.7 269.2,440.4 271.0,440.1 272.8,439.8 274.7,439.6 276.5,439.3 278.3,439.1 280.1,438.9 281.9,438.7 283.8,438.4" stroke="#ff00ff" stroke-dasharray="10.1 3.2 1.4 3.7 1.4 3.5 1.4 3.1"/>
<polyline points="102.4,463.0 103.9,462.1 105.4,461.3 106.9,460.4 108.4,459.5 109.9,458.6 111.4,457.7 113.0,456.9 114.5,456.0 116.0,455.1 117.5,454.3 119.0,453.4 120.5,452.6 122.0,451.7 123.5,450.9 125.1,450.1 126.6,449.2 128.1,448.4 129.6,447.6 131.1,446.8 132.6,446.0 134.1,445.2 135.6,444.4 137.1,443.6 138.7,442.8 140.2,442.1 141.7,441.3 143.2,440.5 144.7,439.8 146.2,439.0 147.7,438.3 149.2,437.6 150.7,436.8 152.3,436.1 153.8,435.4 155.3,434.7 156.8,434.0 158.3,433.3 159.8,432.6 161.3,431.9 162.8,431.3 164.4,430.6 165.9,429.9 167.4,429.3 168.9,428.7 170.4,428.0 171.9,427.4 173.4,426.8 174.9,426.2 176.4,425.6 178.0,425.0 179.5,424.4 181.0,423.8 182.5,423.2 184.0,422.6 185.5,422.1 187.0,421.5 188.5,421.0 190.1,420.5 191.6,419.9 193.1,419.4 194.6,418.9 196.1,418.4 197.6,417.9 199.1,417.4 200.6,416.9 202.1,416.4 203.7,416.0 205.2,415.5 206.7,415.1 208.2,414.6 209.7,414.2 211.2,413.8 212.7,413.3 214.2,412.9 215.7,412.5 217.3,412.1 218.8,411.7 220.3,411.3 221.8,411.0 223.3,410.6 224.8,410.2 226.3,409.9 227.8,409.5 229.4,409.2 230.9,408.8 232.4,408.5 233.9,408.2 235.4,407.8 236.9,407.5 238.4,407.2 239.9,406.9 241.4,406.6 243.0,406.4 244.5,406.1 246.0,405.8 247.5,405.5 249.0,405.3 250.5,405.0 252.0,404.8 253.5,404.5 255.0,404.3 256.6,404.0 258.1,403.8 259.6,403.6 261.1,403.4 262.6,403.1 264.1,402.9 265.6,402.7 267.1,402.5 268.7,402.3 270.2,402.1 271.7,401.9 273.2,401.8 274.7,401.6 276.2,401.4 277.7,401.2 279.2,401.1 280.7,400.9 282.3,400.8 283.8,400.6" stroke="#0000ff" stroke-dasharray="6.9 6.2"/>
<polyline points="102.4,512.3 103.9,511.1 105.4,509.9 106.9,508.7 108.4,507.6 109.9,506.4 111.4,505.2 113.0,504.1 114.5,502.9 116.0,501.8 117.5,500.6 119.0,499.5 120.5,498.4 122.0,497.3 123.5,496.2 125.1,495.1 126.6,494.0 128.1,492.9 129.6,491.8 131.1,490.7 132.6,489.6 134.1,488.6 135.6,487.5 137.1,486.5 138.7,485.4 140.2,484.4 141.7,483.4 143.2,482.3 144.7,481.3 146.2,480.3 147.7,479.3 149.2,478.3 150.7,477.3 152.3,476.3 153.8,475.3 155.3,474.3 156.8,473.4 158.3,472.4 159.8,471.5 161.3,470.5 162.8,469.6 164.4,468.6 165.9,467.7 167.4,466.8 168.9,465.9 170.4,465.0 171.9,464.1 173.4,463.2 174.9,462.3 176.4,461.4 178.0,460.5 179.5,459.6 181.0,458.8 182.5,457.9 184.0,457.0 185.5,456.2 187.0,455.4 188.5,454.5 190.1,453.7 191.6,452.9 193.1,452.1 194.6,451.3 196.1,450.5 197.6,449.7 199.1,448.9 200.6,448.1 202.1,447.3 203.7,446.5 205.2,445.8 206.7,445.0 208.2,444.3 209.7,443.5 211.2,442.8 212.7,442.1 214.2,441.3 215.7,440.6 217.3,439.9 218.8,439.2 220.3,438.5 221.8,437.8 223.3,437.1 224.8,436.5 226.3,435.8 227.8,435.1 229.4,434.5 230.9,433.8 232.4,433.2 233.9,432.5 235.4,431.9 236.9,431.3 238.4,430.6 239.9,430.0 241.4,429.4 243.0,428.8 244.5,428.2 246.0,427.6 247.5,427.0 249.0,426.5 250.5,425.9 252.0,425.3 253.5,424.8 255.0,424.2 256.6,423.7 258.1,423.1 259.6,422.6 261.1,422.1 262.6,421.6 264.1,421.0 265.6,420.5 267.1,420.0 268.7,419.6 270.2,419.1 271.7,418.6 273.2,418.1 274.7,417.6 276.2,417.2 277.7,416.7 279.2,416.3 280.7,415.8 282.3,415.4 283.8,415.0" stroke="#ff0000"/>
</g>
<g clip-path="url(#cp21)" fill="none" stroke-width="1.6">
<polyline points="283.0,521.9 284.8,520.8 286.6,519.6 288.4,518.4 290.3,517.3 292.1,516.1 293.9,515.0 295.7,513.9 297.5,512.8 299.4,511.6 301.2,510.5 303.0,509.4 304.8,508.4 306.6,507.3 308.5,506.2 310.3,505.1 312.1,504.1 313.9,503.0 315.7,502.0 317.6,501.0 319.4,499.9 321.2,498.9 323.0,497.9 324.8,496.9 326.7,495.9 328.5,495.0 330.3,494.0 332.1,493.0 333.9,492.1 335.8,491.1 337.6,490.2 339.4,489.2 341.2,488.3 343.0,487.4 344.9,486.5 346.7,485.6 348.5,484.7 350.3,483.8 352.2,482.9 354.0,482.0 355.8,481.2 357.6,480.3 359.4,479.5 361.3,478.6 363.1,477.8 364.9,477.0 366.7,476.2 368.5,475.4 370.4,474.6 372.2,473.8 374.0,473.0 375.8,472.2 377.6,471.5 379.5,470.7 381.3,470.0 383.1,469.2 384.9,468.5 386.7,467.8 388.6,467.1 390.4,466.3 392.2,465.6 394.0,465.0 395.8,464.3 397.7,463.6 399.5,462.9 401.3,462.3 403.1,461.6 404.9,461.0 406.8,460.3 408.6,459.7 410.4,459.1 412.2,458.5 414.0,457.9 415.9,457.3 417.7,456.7 419.5,456.1 421.3,455.5 423.1,455.0 425.0,454.4 426.8,453.9 428.6,453.3 430.4,452.8 432.3,452.3 434.1,451.8 435.9,451.3 437.7,450.8 439.5,450.3 441.4,449.8 443.2,449.3 445.0,448.9 446.8,448.4 448.6,448.0 450.5,447.5 452.3,447.1 454.1,446.7 455.9,446.2 457.7,445.8 459.6,445.4 461.4,445.0 463.2,444.6 465.0,444.3 466.8,443.9 468.7,443.5 470.5,443.2 472.3,442.8 474.1,442.5 475.9,442.2 477.8,441.9 479.6,441.6 481.4,441.2 483.2,441.0 485.0,440.7 486.9,440.4 488.7,440.1 490.5,439.8 492.3,439.6 494.1,439.3 496.0,439.1 497.8,438.9 499.6,438.7 501.4,438.4" stroke="#ff00ff" stroke-dasharray="10.1 3.2 1.4 3.7 1.4 3.5 1.4 3.1"/>
<polyline points="320.0,463.0 321.6,462.1 323.1,461.3 324.6,460.4 326.1,459.5 327.6,458.6 329.1,457.7 330.6,456.9 332.1,456.0 333.7,455.1 335.2,454.3 336.7,453.4 338.2,452.6 339.7,451.7 341.2,450.9 342.7,450.1 344.2,449.2 345.7,448.4 347.3,447.6 348.8,446.8 350.3,446.0 351.8,445.2 353.3,444.4 354.8,443.6 356.3,442.8 357.8,442.1 359.3,441.3 360.9,440.5 362.4,439.8 363.9,439.0 365.4,438.3 366.9,437.6 368.4,436.8 369.9,436.1 371.4,435.4 373.0,434.7 374.5,434.0 376.0,433.3 377.5,432.6 379.0,431.9 380.5,431.3 382.0,430.6 383.5,429.9 385.0,429.3 386.6,428.7 388.1,428.0 389.6,427.4 391.1,426.8 392.6,426.2 394.1,425.6 395.6,425.0 397.1,424.4 398.6,423.8 400.2,423.2 401.7,422.6 403.2,422.1 404.7,421.5 406.2,421.0 407.7,420.5 409.2,419.9 410.7,419.4 412.2,418.9 413.8,418.4 415.3,417.9 416.8,417.4 418.3,416.9 419.8,416.4 421.3,416.0 422.8,415.5 424.3,415.1 425.9,414.6 427.4,414.2 428.9,413.8 430.4,413.3 431.9,412.9 433.4,412.5 434.9,412.1 436.4,411.7 437.9,411.3 439.5,411.0 441.0,410.6 442.5,410.2 444.0,409.9 445.5,409.5 447.0,409.2 448.5,408.8 450.0,408.5 451.5,408.2 453.1,407.8 454.6,407.5 456.1,407.2 457.6,406.9 459.1,406.6 460.6,406.4 462.1,406.1 463.6,405.8 465.2,405.5 466.7,405.3 468.2,405.0 469.7,404.8 471.2,404.5 472.7,404.3 474.2,404.0 475.7,403.8 477.2,403.6 478.8,403.4 480.3,403.1 481.8,402.9 483.3,402.7 484.8,402.5 486.3,402.3 487.8,402.1 489.3,401.9 490.8,401.8 492.4,401.6 493.9,401.4 495.4,401.2 496.9,401.1 498.4,400.9 499.9,400.8 501.4,400.6" stroke="#0000ff" stroke-dasharray="6.9 6.2"/>
<polyline points="320.0,512.3 321.6,511.1 323.1,509.9 324.6,508.7 326.1,507.6 327.6,506.4 329.1,505.2 330.6,504.1 332.1,502.9 333.7,501.8 335.2,500.6 336.7,499.5 338.2,498.4 339.7,497.3 341.2,496.2 342.7,495.1 344.2,494.0 345.7,492.9 347.3,491.8 348.8,490.7 350.3,489.6 351.8,488.6 353.3,487.5 354.8,486.5 356.3,485.4 357.8,484.4 359.3,483.4 360.9,482.3 362.4,481.3 363.9,480.3 365.4,479.3 366.9,478.3 368.4,477.3 369.9,476.3 371.4,475.3 373.0,474.3 374.5,473.4 376.0,472.4 377.5,471.5 379.0,470.5 380.5,469.6 382.0,468.6 383.5,467.7 385.0,466.8 386.6,465.9 388.1,465.0 389.6,464.1 391.1,463.2 392.6,462.3 394.1,461.4 395.6,460.5 397.1,459.6 398.6,458.8 400.2,457.9 401.7,457.0 403.2,456.2 404.7,455.4 406.2,454.5 407.7,453.7 409.2,452.9 410.7,452.1 412.2,451.3 413.8,450.5 415.3,449.7 416.8,448.9 418.3,448.1 419.8,447.3 421.3,446.5 422.8,445.8 424.3,445.0 425.9,444.3 427.4,443.5 428.9,442.8 430.4,442.1 431.9,441.3 433.4,440.6 434.9,439.9 436.4,439.2 437.9,438.5 439.5,437.8 441.0,437.1 442.5,436.5 444.0,435.8 445.5,435.1 447.0,434.5 448.5,433.8 450.0,433.2 451.5,432.5 453.1,431.9 454.6,431.3 456.1,430.6 457.6,430.0 459.1,429.4 460.6,428.8 462.1,428.2 463.6,427.6 465.2,427.0 466.7,426.5 468.2,425.9 469.7,425.3 471.2,424.8 472.7,424.2 474.2,423.7 475.7,423.1 477.2,422.6 478.8,422.1 480.3,421.6 481.8,421.0 483.3,420.5 484.8,420.0 486.3,419.6 487.8,419.1 489.3,418.6 490.8,418.1 492.4,417.6 493.9,417.2 495.4,416.7 496.9,416.3 498.4,415.8 499.9,415.4 501.4,415.0" stroke="#ff0000"/>
</g>
<g clip-path="url(#cp22)" fill="none" stroke-width="1.6">
<polyline points="500.6,521.9 502.5,520.8 504.3,519.6 506.1,518.4 507.9,517.3 509.7,516.1 511.6,515.0 513.4,513.9 515.2,512.8 517.0,511.6 518.8,510.5 520.7,509.4 522.5,508.4 524.3,507.3 526.1,506.2 527.9,505.1 529.8,504.1 531.6,503.0 533.4,502.0 535.2,501.0 537.0,499.9 538.9,498.9 540.7,497.9 542.5,496.9 544.3,495.9 546.1,495.0 548.0,494.0 549.8,493.0 551.6,492.1 553.4,491.1 555.2,490.2 557.1,489.2 558.9,488.3 560.7,487.4 562.5,486.5 564.4,485.6 566.2,484.7 568.0,483.8 569.8,482.9 571.6,482.0 573.5,481.2 575.3,480.3 577.1,479.5 578.9,478.6 580.7,477.8 582.6,477.0 584.4,476.2 586.2,475.4 588.0,474.6 589.8,473.8 591.7,473.0 593.5,472.2 595.3,471.5 597.1,470.7 598.9,470.0 600.8,469.2 602.6,468.5 604.4,467.8 606.2,467.1 608.0,466.3 609.9,465.6 611.7,465.0 613.5,464.3 615.3,463.6 617.1,462.9 619.0,462.3 620.8,461.6 622.6,461.0 624.4,460.3 626.3,459.7 628.1,459.1 629.9,458.5 631.7,457.9 633.5,457.3 635.4,456.7 637.2,456.1 639.0,455.5 640.8,455.0 642.6,454.4 644.5,453.9 646.3,453.3 648.1,452.8 649.9,452.3 651.7,451.8 653.6,451.3 655.4,450.8 657.2,450.3 659.0,449.8 660.8,449.3 662.7,448.9 664.5,448.4 666.3,448.0 668.1,447.5 669.9,447.1 671.8,446.7 673.6,446.2 675.4,445.8 677.2,445.4 679.0,445.0 680.9,444.6 682.7,444.3 684.5,443.9 686.3,443.5 688.2,443.2 690.0,442.8 691.8,442.5 693.6,442.2 695.4,441.9 697.3,441.6 699.1,441.2 700.9,441.0 702.7,440.7 704.5,440.4 706.4,440.1 708.2,439.8 710.0,439.6 711.8,439.3 713.6,439.1 715.5,438.9 717.3,438.7 719.1,438.4" stroke="#ff00ff" stroke-dasharray="10.1 3.2 1.4 3.7 1.4 3.5 1.4 3.1"/>
<polyline points="537.7,463.0 539.2,462.1 540.7,461.3 542.2,460.4 543.8,459.5 545.3,458.6 546.8,457.7 548.3,456.9 549.8,456.0 551.3,455.1 552.8,454.3 554.3,453.4 555.8,452.6 557.4,451.7 558.9,450.9 560.4,450.1 561.9,449.2 563.4,448.4 564.9,447.6 566.4,446.8 567.9,446.0 569.5,445.2 571.0,444.4 572.5,443.6 574.0,442.8 575.5,442.1 577.0,441.3 578.5,440.5 580.0,439.8 581.5,439.0 583.1,438.3 584.6,437.6 586.1,436.8 587.6,436.1 589.1,435.4 590.6,434.7 592.1,434.0 593.6,433.3 595.1,432.6 596.7,431.9 598.2,431.3 599.7,430.6 601.2,429.9 602.7,429.3 604.2,428.7 605.7,428.0 607.2,427.4 608.8,426.8 610.3,426.2 611.8,425.6 613.3,425.0 614.8,424.4 616.3,423.8 617.8,423.2 619.3,422.6 620.8,422.1 622.4,421.5 623.9,421.0 625.4,420.5 626.9,419.9 628.4,419.4 629.9,418.9 631.4,418.4 632.9,417.9 634.5,417.4 636.0,416.9 637.5,416.4 639.0,416.0 640.5,415.5 642.0,415.1 643.5,414.6 645.0,414.2 646.5,413.8 648.1,413.3 649.6,412.9 651.1,412.5 652.6,412.1 654.1,411.7 655.6,411.3 657.1,411.0 658.6,410.6 660.1,410.2 661.7,409.9 663.2,409.5 664.7,409.2 666.2,408.8 667.7,408.5 669.2,408.2 670.7,407.8 672.2,407.5 673.8,407.2 675.3,406.9 676.8,406.6 678.3,406.4 679.8,406.1 681.3,405.8 682.8,405.5 684.3,405.3 685.8,405.0 687.4,404.8 688.9,404.5 690.4,404.3 691.9,404.0 693.4,403.8 694.9,403.6 696.4,403.4 697.9,403.1 699.4,402.9 701.0,402.7 702.5,402.5 704.0,402.3 705.5,402.1 707.0,401.9 708.5,401.8 710.0,401.6 711.5,401.4 713.1,401.2 714.6,401.1 716.1,400.9 717.6,400.8 719.1,400.6" stroke="#0000ff" stroke-dasharray="6.9 6.2"/>
<polyline points="537.7,512.3 539.2,511.1 540.7,509.9 542.2,508.7 543.8,507.6 545.3,506.4 546.8,505.2 548.3,504.1 549.8,502.9 551.3,501.8 552.8,500.6 554.3,499.5 555.8,498.4 557.4,497.3 558.9,496.2 560.4,495.1 561.9,494.0 563.4,492.9 564.9,491.8 566.4,490.7 567.9,489.6 569.5,488.6 571.0,487.5 572.5,486.5 574.0,485.4 575.5,484.4 577.0,483.4 578.5,482.3 580.0,481.3 581.5,480.3 583.1,479.3 584.6,478.3 586.1,477.3 587.6,476.3 589.1,475.3 590.6,474.3 592.1,473.4 593.6,472.4 595.1,471.5 596.7,470.5 598.2,469.6 599.7,468.6 601.2,467.7 602.7,466.8 604.2,465.9 605.7,465.0 607.2,464.1 608.8,463.2 610.3,462.3 611.8,461.4 613.3,460.5 614.8,459.6 616.3,458.8 617.8,457.9 619.3,457.0 620.8,456.2 622.4,455.4 623.9,454.5 625.4,453.7 626.9,452.9 628.4,452.1 629.9,451.3 631.4,450.5 632.9,449.7 634.5,448.9 636.0,448.1 637.5,447.3 639.0,446.5 640.5,445.8 642.0,445.0 643.5,444.3 645.0,443.5 646.5,442.8 648.1,442.1 649.6,441.3 651.1,440.6 652.6,439.9 654.1,439.2 655.6,438.5 657.1,437.8 658.6,437.1 660.1,436.5 661.7,435.8 663.2,435.1 664.7,434.5 666.2,433.8 667.7,433.2 669.2,432.5 670.7,431.9 672.2,431.3 673.8,430.6 675.3,430.0 676.8,429.4 678.3,428.8 679.8,428.2 681.3,427.6 682.8,427.0 684.3,426.5 685.8,425.9 687.4,425.3 688.9,424.8 690.4,424.2 691.9,423.7 693.4,423.1 694.9,422.6 696.4,422.1 697.9,421.6 699.4,421.0 701.0,420.5 702.5,420.0 704.0,419.6 705.5,419.1 707.0,418.6 708.5,418.1 710.0,417.6 711.5,417.2 713.1,416.7 714.6,416.3 716.1,415.8 717.6,415.4 719.1,415.0" stroke="#ff0000"/>
</g>
<text class="n" x="60.9" y="26.4" text-anchor="end" letter-spacing="0.5">9.5</text>
<text class="n" x="60.9" y="64.2" text-anchor="end" letter-spacing="0.5">9.0</text>
<text class="n" x="60.9" y="107.0" text-anchor="end" letter-spacing="0.5">8.5</text>
<text class="n" x="60.9" y="149.9" text-anchor="end" letter-spacing="0.5">8.0</text>
<text class="n" x="60.9" y="186.2" text-anchor="end" letter-spacing="0.5">7.5</text>
<text class="n" x="60.9" y="197.7" text-anchor="end" letter-spacing="0.5">9.5</text>
<text class="n" x="60.9" y="235.5" text-anchor="end" letter-spacing="0.5">9.0</text>
<text class="n" x="60.9" y="278.2" text-anchor="end" letter-spacing="0.5">8.5</text>
<text class="n" x="60.9" y="321.0" text-anchor="end" letter-spacing="0.5">8.0</text>
<text class="n" x="60.9" y="357.3" text-anchor="end" letter-spacing="0.5">7.5</text>
<text class="n" x="60.9" y="368.8" text-anchor="end" letter-spacing="0.5">9.5</text>
<text class="n" x="60.9" y="406.6" text-anchor="end" letter-spacing="0.5">9.0</text>
<text class="n" x="60.9" y="449.5" text-anchor="end" letter-spacing="0.5">8.5</text>
<text class="n" x="60.9" y="492.3" text-anchor="end" letter-spacing="0.5">8.0</text>
<text class="n" x="60.9" y="528.6" text-anchor="end" letter-spacing="0.5">7.5</text>
<text class="n" x="66.3" y="551.8" text-anchor="middle" letter-spacing="0.5">8.0</text>
<text class="n" x="102.6" y="551.8" text-anchor="middle" letter-spacing="0.5">8.5</text>
<text class="n" x="138.9" y="551.8" text-anchor="middle" letter-spacing="0.5">9.0</text>
<text class="n" x="175.2" y="551.8" text-anchor="middle" letter-spacing="0.5">9.5</text>
<text class="n" x="211.2" y="551.8" text-anchor="middle">10.0</text>
<text class="n" x="247.5" y="551.8" text-anchor="middle">10.5</text>
<text class="n" x="284.0" y="551.8" text-anchor="middle" letter-spacing="0.5">8.0</text>
<text class="n" x="320.3" y="551.8" text-anchor="middle" letter-spacing="0.5">8.5</text>
<text class="n" x="356.6" y="551.8" text-anchor="middle" letter-spacing="0.5">9.0</text>
<text class="n" x="392.8" y="551.8" text-anchor="middle" letter-spacing="0.5">9.5</text>
<text class="n" x="428.9" y="551.8" text-anchor="middle">10.0</text>
<text class="n" x="465.2" y="551.8" text-anchor="middle">10.5</text>
<text class="n" x="501.7" y="551.8" text-anchor="middle" letter-spacing="0.5">8.0</text>
<text class="n" x="538.0" y="551.8" text-anchor="middle" letter-spacing="0.5">8.5</text>
<text class="n" x="574.2" y="551.8" text-anchor="middle" letter-spacing="0.5">9.0</text>
<text class="n" x="610.5" y="551.8" text-anchor="middle" letter-spacing="0.5">9.5</text>
<text class="n" x="646.5" y="551.8" text-anchor="middle">10.0</text>
<text class="n" x="682.8" y="551.8" text-anchor="middle">10.5</text>
<text class="n" x="719.1" y="551.8" text-anchor="middle">11.0</text>
<text transform="translate(24.3 99.2) rotate(-90) scale(0.92 1)" text-anchor="middle" font-size="18" letter-spacing="2.4">12 + log [O/H]</text>
<text transform="translate(24.3 270.4) rotate(-90) scale(0.92 1)" text-anchor="middle" font-size="18" letter-spacing="2.4">12 + log [O/H]</text>
<text transform="translate(24.3 441.7) rotate(-90) scale(0.92 1)" text-anchor="middle" font-size="18" letter-spacing="2.4">12 + log [O/H]</text>
<g transform="translate(174.9 570.5)" font-size="15.8" style="stroke:none;fill:#333"><text transform="translate(-27.8 0) scale(0.82 1)">M</text><text x="-16.3" y="3.6" font-size="9" style="stroke:none;fill:#111">*</text><text x="-3.8" y="0">(</text><text transform="translate(3.3 0) scale(0.82 1)">M</text><circle cx="17.8" cy="-0.2" r="2.3" fill="none" stroke="#4a4a4a" stroke-width="0.8"/><circle cx="17.8" cy="-0.2" r="0.6" fill="#4a4a4a"/><text x="21.6" y="0">)</text></g>
<g transform="translate(392.6 570.5)" font-size="15.8" style="stroke:none;fill:#333"><text transform="translate(-27.8 0) scale(0.82 1)">M</text><text x="-16.3" y="3.6" font-size="9" style="stroke:none;fill:#111">*</text><text x="-3.8" y="0">(</text><text transform="translate(3.3 0) scale(0.82 1)">M</text><circle cx="17.8" cy="-0.2" r="2.3" fill="none" stroke="#4a4a4a" stroke-width="0.8"/><circle cx="17.8" cy="-0.2" r="0.6" fill="#4a4a4a"/><text x="21.6" y="0">)</text></g>
<g transform="translate(610.3 570.5)" font-size="15.8" style="stroke:none;fill:#333"><text transform="translate(-27.8 0) scale(0.82 1)">M</text><text x="-16.3" y="3.6" font-size="9" style="stroke:none;fill:#111">*</text><text x="-3.8" y="0">(</text><text transform="translate(3.3 0) scale(0.82 1)">M</text><circle cx="17.8" cy="-0.2" r="2.3" fill="none" stroke="#4a4a4a" stroke-width="0.8"/><circle cx="17.8" cy="-0.2" r="0.6" fill="#4a4a4a"/><text x="21.6" y="0">)</text></g>
<text transform="translate(82.4 41.1) scale(1.11 1)" font-size="17.4">Model-EJ</text>
<text transform="translate(298.8 41.1) scale(1.11 1)" font-size="17.4">Model-IR</text>
<text transform="translate(515.5 41.1) scale(1.11 1)" font-size="17.4">Model-PR</text>
<text transform="translate(0 41.2) scale(1.08 1)" font-size="25" x="195.3 209.5 226.7" dy="0 1.2 -1.2">z=0</text>
<text transform="translate(0 212.5) scale(1.08 1)" font-size="25" x="195.3 209.5 227.2" dy="0 1.2 -1.2">z=1</text>
<text transform="translate(0 383.6) scale(1.08 1)" font-size="25" x="195.3 209.5 226.9" dy="0 1.2 -1.2">z=2</text>
<text transform="translate(636.5 123.1) scale(1.247 1)" text-anchor="end" font-size="14" style="stroke-width:0.2px">Maiolino2008</text>
<line x1="646.4" y1="119.0" x2="698.7" y2="119.0" stroke="#ff0000" stroke-width="1.6"/>
<text transform="translate(636.5 136.9) scale(1.262 1)" text-anchor="end" font-size="14" style="stroke-width:0.2px">Andrews2013</text>
<line x1="646.4" y1="132.8" x2="698.7" y2="132.8" stroke="#00ff00" stroke-width="1.6" stroke-dasharray="13.2 6.4"/>
<text transform="translate(636.5 150.7) scale(1.284 1)" text-anchor="end" font-size="14" style="stroke-width:0.2px">Zahid2013</text>
<line x1="646.4" y1="146.6" x2="698.7" y2="146.6" stroke="#0000ff" stroke-width="1.6" stroke-dasharray="6.9 6.2"/>
<text transform="translate(636.5 164.5) scale(1.248 1)" text-anchor="end" font-size="14" style="stroke-width:0.2px">Yabe2012</text>
<line x1="646.4" y1="160.4" x2="698.7" y2="160.4" stroke="#556b2f" stroke-width="1.6" stroke-dasharray="6.8 3.2 1.6 3.1"/>
<text transform="translate(636.5 178.3) scale(1.290 1)" text-anchor="end" font-size="14" style="stroke-width:0.2px">Erb2006</text>
<line x1="646.4" y1="174.2" x2="698.7" y2="174.2" stroke="#ff00ff" stroke-width="1.6" stroke-dasharray="10.1 3.2 1.4 3.7 1.4 3.5 1.4 3.1"/>
</svg></body></html>
